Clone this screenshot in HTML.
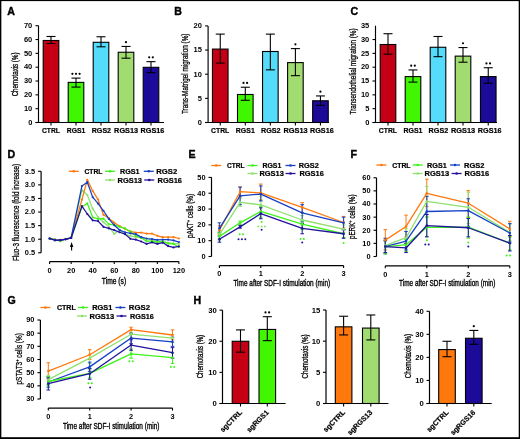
<!DOCTYPE html><html><head><meta charset="utf-8"><style>html,body{margin:0;padding:0;background:#fff;}svg{display:block;will-change:transform;}body{overflow:hidden;}</style></head><body><svg width="520" height="439" viewBox="0 0 520 439" font-family='"Liberation Sans", sans-serif'>
<rect x="0" y="0" width="520" height="439" fill="#fff"/>
<text x="7.3" y="15.1" font-size="10.6" font-weight="bold" text-anchor="start" fill="#000" stroke="#000" stroke-width="0.4">A</text>
<line x1="38.5" y1="25.700000000000003" x2="38.5" y2="123.0" stroke="#000" stroke-width="1.15"/>
<line x1="35.5" y1="122.5" x2="164" y2="122.5" stroke="#000" stroke-width="1.15"/>
<line x1="35.5" y1="122.5" x2="38.5" y2="122.5" stroke="#000" stroke-width="1.1"/>
<text x="32.3" y="124.8" font-size="7.5" font-weight="bold" text-anchor="end" fill="#000">0</text>
<line x1="35.5" y1="108.67142857142858" x2="38.5" y2="108.67142857142858" stroke="#000" stroke-width="1.1"/>
<text x="32.3" y="110.97142857142858" font-size="7.5" font-weight="bold" text-anchor="end" fill="#000">10</text>
<line x1="35.5" y1="94.84285714285714" x2="38.5" y2="94.84285714285714" stroke="#000" stroke-width="1.1"/>
<text x="32.3" y="97.14285714285714" font-size="7.5" font-weight="bold" text-anchor="end" fill="#000">20</text>
<line x1="35.5" y1="81.01428571428572" x2="38.5" y2="81.01428571428572" stroke="#000" stroke-width="1.1"/>
<text x="32.3" y="83.31428571428572" font-size="7.5" font-weight="bold" text-anchor="end" fill="#000">30</text>
<line x1="35.5" y1="67.18571428571428" x2="38.5" y2="67.18571428571428" stroke="#000" stroke-width="1.1"/>
<text x="32.3" y="69.48571428571428" font-size="7.5" font-weight="bold" text-anchor="end" fill="#000">40</text>
<line x1="35.5" y1="53.35714285714286" x2="38.5" y2="53.35714285714286" stroke="#000" stroke-width="1.1"/>
<text x="32.3" y="55.65714285714286" font-size="7.5" font-weight="bold" text-anchor="end" fill="#000">50</text>
<line x1="35.5" y1="39.52857142857144" x2="38.5" y2="39.52857142857144" stroke="#000" stroke-width="1.1"/>
<text x="32.3" y="41.828571428571436" font-size="7.5" font-weight="bold" text-anchor="end" fill="#000">60</text>
<line x1="35.5" y1="25.700000000000003" x2="38.5" y2="25.700000000000003" stroke="#000" stroke-width="1.1"/>
<text x="32.3" y="28.000000000000004" font-size="7.5" font-weight="bold" text-anchor="end" fill="#000">70</text>
<rect x="43.2" y="40.49657142857144" width="15.6" height="82.00342857142856" fill="#c60014" stroke="#000" stroke-width="1.1"/>
<line x1="51" y1="36.486285714285714" x2="51" y2="43.53885714285714" stroke="#000" stroke-width="1.1"/>
<line x1="46.5" y1="36.486285714285714" x2="55.5" y2="36.486285714285714" stroke="#000" stroke-width="1.1"/>
<line x1="46.5" y1="43.53885714285714" x2="55.5" y2="43.53885714285714" stroke="#000" stroke-width="1.1"/>
<line x1="51" y1="122.5" x2="51" y2="125.5" stroke="#000" stroke-width="1.1"/>
<text x="50.9" y="133.4" font-size="8.1" font-weight="bold" text-anchor="middle" fill="#000" stroke="#000" stroke-width="0.22" textLength="18" lengthAdjust="spacingAndGlyphs">CTRL</text>
<rect x="68.2" y="82.39714285714285" width="15.6" height="40.10285714285715" fill="#40f600" stroke="#000" stroke-width="1.1"/>
<line x1="76" y1="78.11028571428571" x2="76" y2="87.09885714285714" stroke="#000" stroke-width="1.1"/>
<line x1="71.5" y1="78.11028571428571" x2="80.5" y2="78.11028571428571" stroke="#000" stroke-width="1.1"/>
<line x1="71.5" y1="87.09885714285714" x2="80.5" y2="87.09885714285714" stroke="#000" stroke-width="1.1"/>
<line x1="76" y1="122.5" x2="76" y2="125.5" stroke="#000" stroke-width="1.1"/>
<circle cx="72.40" cy="73.81" r="1.1" fill="#000"/>
<circle cx="76.00" cy="73.81" r="1.1" fill="#000"/>
<circle cx="79.60" cy="73.81" r="1.1" fill="#000"/>
<text x="76" y="133.4" font-size="8.1" font-weight="bold" text-anchor="middle" fill="#000" stroke="#000" stroke-width="0.22" textLength="18.5" lengthAdjust="spacingAndGlyphs">RGS1</text>
<rect x="93.2" y="42.29428571428572" width="15.6" height="80.20571428571428" fill="#55dcfb" stroke="#000" stroke-width="1.1"/>
<line x1="101" y1="36.76285714285714" x2="101" y2="46.78857142857143" stroke="#000" stroke-width="1.1"/>
<line x1="96.5" y1="36.76285714285714" x2="105.5" y2="36.76285714285714" stroke="#000" stroke-width="1.1"/>
<line x1="96.5" y1="46.78857142857143" x2="105.5" y2="46.78857142857143" stroke="#000" stroke-width="1.1"/>
<line x1="101" y1="122.5" x2="101" y2="125.5" stroke="#000" stroke-width="1.1"/>
<text x="101.4" y="133.4" font-size="8.1" font-weight="bold" text-anchor="middle" fill="#000" stroke="#000" stroke-width="0.22" textLength="19.3" lengthAdjust="spacingAndGlyphs">RGS2</text>
<rect x="118.2" y="52.25085714285716" width="15.6" height="70.24914285714284" fill="#a0dc70" stroke="#000" stroke-width="1.1"/>
<line x1="126" y1="46.44285714285715" x2="126" y2="58.197142857142865" stroke="#000" stroke-width="1.1"/>
<line x1="121.5" y1="46.44285714285715" x2="130.5" y2="46.44285714285715" stroke="#000" stroke-width="1.1"/>
<line x1="121.5" y1="58.197142857142865" x2="130.5" y2="58.197142857142865" stroke="#000" stroke-width="1.1"/>
<line x1="126" y1="122.5" x2="126" y2="125.5" stroke="#000" stroke-width="1.1"/>
<circle cx="126.00" cy="42.14" r="1.1" fill="#000"/>
<text x="126.1" y="133.4" font-size="8.1" font-weight="bold" text-anchor="middle" fill="#000" stroke="#000" stroke-width="0.22" textLength="24" lengthAdjust="spacingAndGlyphs">RGS13</text>
<rect x="143.2" y="67.32400000000001" width="15.6" height="55.17599999999999" fill="#1c0a98" stroke="#000" stroke-width="1.1"/>
<line x1="151" y1="61.65428571428572" x2="151" y2="72.71714285714286" stroke="#000" stroke-width="1.1"/>
<line x1="146.5" y1="61.65428571428572" x2="155.5" y2="61.65428571428572" stroke="#000" stroke-width="1.1"/>
<line x1="146.5" y1="72.71714285714286" x2="155.5" y2="72.71714285714286" stroke="#000" stroke-width="1.1"/>
<line x1="151" y1="122.5" x2="151" y2="125.5" stroke="#000" stroke-width="1.1"/>
<circle cx="149.20" cy="57.35" r="1.1" fill="#000"/>
<circle cx="152.80" cy="57.35" r="1.1" fill="#000"/>
<text x="152.4" y="133.4" font-size="8.1" font-weight="bold" text-anchor="middle" fill="#000" stroke="#000" stroke-width="0.22" textLength="23.7" lengthAdjust="spacingAndGlyphs">RGS16</text>
<text transform="translate(18.4 74.45) rotate(-90) scale(0.7436 1)" x="0" y="0" font-size="8.3" font-weight="normal" text-anchor="middle" fill="#000" stroke="#000" stroke-width="0.28"><tspan dy="0.00">Chemotaxis (%)</tspan></text>
<text x="174.2" y="15.2" font-size="10.6" font-weight="bold" text-anchor="start" fill="#000" stroke="#000" stroke-width="0.4">B</text>
<line x1="208.1" y1="25.900000000000006" x2="208.1" y2="123.0" stroke="#000" stroke-width="1.15"/>
<line x1="205.1" y1="122.5" x2="329" y2="122.5" stroke="#000" stroke-width="1.15"/>
<line x1="205.1" y1="122.5" x2="208.1" y2="122.5" stroke="#000" stroke-width="1.1"/>
<text x="201.9" y="124.8" font-size="7.5" font-weight="bold" text-anchor="end" fill="#000">0</text>
<line x1="205.1" y1="98.35" x2="208.1" y2="98.35" stroke="#000" stroke-width="1.1"/>
<text x="201.9" y="100.64999999999999" font-size="7.5" font-weight="bold" text-anchor="end" fill="#000">5</text>
<line x1="205.1" y1="74.2" x2="208.1" y2="74.2" stroke="#000" stroke-width="1.1"/>
<text x="201.9" y="76.5" font-size="7.5" font-weight="bold" text-anchor="end" fill="#000">10</text>
<line x1="205.1" y1="50.05" x2="208.1" y2="50.05" stroke="#000" stroke-width="1.1"/>
<text x="201.9" y="52.349999999999994" font-size="7.5" font-weight="bold" text-anchor="end" fill="#000">15</text>
<line x1="205.1" y1="25.900000000000006" x2="208.1" y2="25.900000000000006" stroke="#000" stroke-width="1.1"/>
<text x="201.9" y="28.200000000000006" font-size="7.5" font-weight="bold" text-anchor="end" fill="#000">20</text>
<rect x="212.45" y="49.084" width="15.6" height="73.416" fill="#c60014" stroke="#000" stroke-width="1.1"/>
<line x1="220.25" y1="34.11099999999999" x2="220.25" y2="63.090999999999994" stroke="#000" stroke-width="1.1"/>
<line x1="215.75" y1="34.11099999999999" x2="224.75" y2="34.11099999999999" stroke="#000" stroke-width="1.1"/>
<line x1="215.75" y1="63.090999999999994" x2="224.75" y2="63.090999999999994" stroke="#000" stroke-width="1.1"/>
<line x1="220.25" y1="122.5" x2="220.25" y2="125.5" stroke="#000" stroke-width="1.1"/>
<text x="220.15" y="133.4" font-size="8.1" font-weight="bold" text-anchor="middle" fill="#000" stroke="#000" stroke-width="0.22" textLength="18.3" lengthAdjust="spacingAndGlyphs">CTRL</text>
<rect x="237.5" y="94.486" width="15.6" height="28.013999999999996" fill="#40f600" stroke="#000" stroke-width="1.1"/>
<line x1="245.3" y1="87.241" x2="245.3" y2="100.282" stroke="#000" stroke-width="1.1"/>
<line x1="240.8" y1="87.241" x2="249.8" y2="87.241" stroke="#000" stroke-width="1.1"/>
<line x1="240.8" y1="100.282" x2="249.8" y2="100.282" stroke="#000" stroke-width="1.1"/>
<line x1="245.3" y1="122.5" x2="245.3" y2="125.5" stroke="#000" stroke-width="1.1"/>
<circle cx="243.50" cy="82.94" r="1.1" fill="#000"/>
<circle cx="247.10" cy="82.94" r="1.1" fill="#000"/>
<text x="245.3" y="133.4" font-size="8.1" font-weight="bold" text-anchor="middle" fill="#000" stroke="#000" stroke-width="0.22" textLength="18.9" lengthAdjust="spacingAndGlyphs">RGS1</text>
<rect x="262.55" y="51.49900000000001" width="15.6" height="71.00099999999999" fill="#55dcfb" stroke="#000" stroke-width="1.1"/>
<line x1="270.35" y1="34.11099999999999" x2="270.35" y2="69.853" stroke="#000" stroke-width="1.1"/>
<line x1="265.85" y1="34.11099999999999" x2="274.85" y2="34.11099999999999" stroke="#000" stroke-width="1.1"/>
<line x1="265.85" y1="69.853" x2="274.85" y2="69.853" stroke="#000" stroke-width="1.1"/>
<line x1="270.35" y1="122.5" x2="270.35" y2="125.5" stroke="#000" stroke-width="1.1"/>
<text x="270.75" y="133.4" font-size="8.1" font-weight="bold" text-anchor="middle" fill="#000" stroke="#000" stroke-width="0.22" textLength="19.6" lengthAdjust="spacingAndGlyphs">RGS2</text>
<rect x="287.59999999999997" y="62.608" width="15.6" height="59.892" fill="#a0dc70" stroke="#000" stroke-width="1.1"/>
<line x1="295.4" y1="48.601" x2="295.4" y2="75.649" stroke="#000" stroke-width="1.1"/>
<line x1="290.9" y1="48.601" x2="299.9" y2="48.601" stroke="#000" stroke-width="1.1"/>
<line x1="290.9" y1="75.649" x2="299.9" y2="75.649" stroke="#000" stroke-width="1.1"/>
<line x1="295.4" y1="122.5" x2="295.4" y2="125.5" stroke="#000" stroke-width="1.1"/>
<circle cx="295.40" cy="44.30" r="1.1" fill="#000"/>
<text x="295.5" y="133.4" font-size="8.1" font-weight="bold" text-anchor="middle" fill="#000" stroke="#000" stroke-width="0.22" textLength="24.2" lengthAdjust="spacingAndGlyphs">RGS13</text>
<rect x="312.65" y="100.765" width="15.6" height="21.735" fill="#1c0a98" stroke="#000" stroke-width="1.1"/>
<line x1="320.45" y1="95.935" x2="320.45" y2="105.3535" stroke="#000" stroke-width="1.1"/>
<line x1="315.95" y1="95.935" x2="324.95" y2="95.935" stroke="#000" stroke-width="1.1"/>
<line x1="315.95" y1="105.3535" x2="324.95" y2="105.3535" stroke="#000" stroke-width="1.1"/>
<line x1="320.45" y1="122.5" x2="320.45" y2="125.5" stroke="#000" stroke-width="1.1"/>
<circle cx="320.45" cy="91.64" r="1.1" fill="#000"/>
<text x="321.84999999999997" y="133.4" font-size="8.1" font-weight="bold" text-anchor="middle" fill="#000" stroke="#000" stroke-width="0.22" textLength="23.7" lengthAdjust="spacingAndGlyphs">RGS16</text>
<text transform="translate(187.5 73.8) rotate(-90) scale(0.7707 1)" x="0" y="0" font-size="8.3" font-weight="normal" text-anchor="middle" fill="#000" stroke="#000" stroke-width="0.28"><tspan dy="0.00">Trans-Matrigel migration (%)</tspan></text>
<text x="350.5" y="15.2" font-size="10.6" font-weight="bold" text-anchor="start" fill="#000" stroke="#000" stroke-width="0.4">C</text>
<line x1="375.5" y1="25.700000000000003" x2="375.5" y2="123.0" stroke="#000" stroke-width="1.15"/>
<line x1="372.5" y1="122.5" x2="497" y2="122.5" stroke="#000" stroke-width="1.15"/>
<line x1="372.5" y1="122.5" x2="375.5" y2="122.5" stroke="#000" stroke-width="1.1"/>
<text x="369.3" y="124.8" font-size="7.5" font-weight="bold" text-anchor="end" fill="#000">0</text>
<line x1="372.5" y1="108.67142857142858" x2="375.5" y2="108.67142857142858" stroke="#000" stroke-width="1.1"/>
<text x="369.3" y="110.97142857142858" font-size="7.5" font-weight="bold" text-anchor="end" fill="#000">5</text>
<line x1="372.5" y1="94.84285714285714" x2="375.5" y2="94.84285714285714" stroke="#000" stroke-width="1.1"/>
<text x="369.3" y="97.14285714285714" font-size="7.5" font-weight="bold" text-anchor="end" fill="#000">10</text>
<line x1="372.5" y1="81.01428571428572" x2="375.5" y2="81.01428571428572" stroke="#000" stroke-width="1.1"/>
<text x="369.3" y="83.31428571428572" font-size="7.5" font-weight="bold" text-anchor="end" fill="#000">15</text>
<line x1="372.5" y1="67.18571428571428" x2="375.5" y2="67.18571428571428" stroke="#000" stroke-width="1.1"/>
<text x="369.3" y="69.48571428571428" font-size="7.5" font-weight="bold" text-anchor="end" fill="#000">20</text>
<line x1="372.5" y1="53.35714285714286" x2="375.5" y2="53.35714285714286" stroke="#000" stroke-width="1.1"/>
<text x="369.3" y="55.65714285714286" font-size="7.5" font-weight="bold" text-anchor="end" fill="#000">25</text>
<line x1="372.5" y1="39.52857142857144" x2="375.5" y2="39.52857142857144" stroke="#000" stroke-width="1.1"/>
<text x="369.3" y="41.828571428571436" font-size="7.5" font-weight="bold" text-anchor="end" fill="#000">30</text>
<text x="369.3" y="28.000000000000004" font-size="7.5" font-weight="bold" text-anchor="end" fill="#000">35</text>
<rect x="380.2" y="44.50685714285714" width="15.6" height="77.99314285714286" fill="#c60014" stroke="#000" stroke-width="1.1"/>
<line x1="388" y1="33.72057142857143" x2="388" y2="54.18685714285715" stroke="#000" stroke-width="1.1"/>
<line x1="383.5" y1="33.72057142857143" x2="392.5" y2="33.72057142857143" stroke="#000" stroke-width="1.1"/>
<line x1="383.5" y1="54.18685714285715" x2="392.5" y2="54.18685714285715" stroke="#000" stroke-width="1.1"/>
<line x1="388" y1="122.5" x2="388" y2="125.5" stroke="#000" stroke-width="1.1"/>
<text x="387.9" y="133.4" font-size="8.1" font-weight="bold" text-anchor="middle" fill="#000" stroke="#000" stroke-width="0.22" textLength="18.3" lengthAdjust="spacingAndGlyphs">CTRL</text>
<rect x="405.2" y="76.58914285714286" width="15.6" height="45.91085714285714" fill="#40f600" stroke="#000" stroke-width="1.1"/>
<line x1="413" y1="69.95142857142858" x2="413" y2="82.12057142857142" stroke="#000" stroke-width="1.1"/>
<line x1="408.5" y1="69.95142857142858" x2="417.5" y2="69.95142857142858" stroke="#000" stroke-width="1.1"/>
<line x1="408.5" y1="82.12057142857142" x2="417.5" y2="82.12057142857142" stroke="#000" stroke-width="1.1"/>
<line x1="413" y1="122.5" x2="413" y2="125.5" stroke="#000" stroke-width="1.1"/>
<circle cx="411.20" cy="65.65" r="1.1" fill="#000"/>
<circle cx="414.80" cy="65.65" r="1.1" fill="#000"/>
<text x="413" y="133.4" font-size="8.1" font-weight="bold" text-anchor="middle" fill="#000" stroke="#000" stroke-width="0.22" textLength="18.9" lengthAdjust="spacingAndGlyphs">RGS1</text>
<rect x="430.2" y="47.27257142857144" width="15.6" height="75.22742857142856" fill="#55dcfb" stroke="#000" stroke-width="1.1"/>
<line x1="438" y1="36.486285714285714" x2="438" y2="56.676" stroke="#000" stroke-width="1.1"/>
<line x1="433.5" y1="36.486285714285714" x2="442.5" y2="36.486285714285714" stroke="#000" stroke-width="1.1"/>
<line x1="433.5" y1="56.676" x2="442.5" y2="56.676" stroke="#000" stroke-width="1.1"/>
<line x1="438" y1="122.5" x2="438" y2="125.5" stroke="#000" stroke-width="1.1"/>
<text x="438.4" y="133.4" font-size="8.1" font-weight="bold" text-anchor="middle" fill="#000" stroke="#000" stroke-width="0.22" textLength="19.6" lengthAdjust="spacingAndGlyphs">RGS2</text>
<rect x="455.2" y="56.12285714285714" width="15.6" height="66.37714285714286" fill="#a0dc70" stroke="#000" stroke-width="1.1"/>
<line x1="463" y1="47.549142857142854" x2="463" y2="62.20742857142857" stroke="#000" stroke-width="1.1"/>
<line x1="458.5" y1="47.549142857142854" x2="467.5" y2="47.549142857142854" stroke="#000" stroke-width="1.1"/>
<line x1="458.5" y1="62.20742857142857" x2="467.5" y2="62.20742857142857" stroke="#000" stroke-width="1.1"/>
<line x1="463" y1="122.5" x2="463" y2="125.5" stroke="#000" stroke-width="1.1"/>
<circle cx="463.00" cy="43.25" r="1.1" fill="#000"/>
<text x="463.1" y="133.4" font-size="8.1" font-weight="bold" text-anchor="middle" fill="#000" stroke="#000" stroke-width="0.22" textLength="24.2" lengthAdjust="spacingAndGlyphs">RGS13</text>
<rect x="480.45" y="76.58914285714286" width="15.6" height="45.91085714285714" fill="#1c0a98" stroke="#000" stroke-width="1.1"/>
<line x1="488.25" y1="67.73885714285714" x2="488.25" y2="83.22685714285714" stroke="#000" stroke-width="1.1"/>
<line x1="483.75" y1="67.73885714285714" x2="492.75" y2="67.73885714285714" stroke="#000" stroke-width="1.1"/>
<line x1="483.75" y1="83.22685714285714" x2="492.75" y2="83.22685714285714" stroke="#000" stroke-width="1.1"/>
<line x1="488.25" y1="122.5" x2="488.25" y2="125.5" stroke="#000" stroke-width="1.1"/>
<circle cx="486.45" cy="63.44" r="1.1" fill="#000"/>
<circle cx="490.05" cy="63.44" r="1.1" fill="#000"/>
<text x="489.65" y="133.4" font-size="8.1" font-weight="bold" text-anchor="middle" fill="#000" stroke="#000" stroke-width="0.22" textLength="23.7" lengthAdjust="spacingAndGlyphs">RGS16</text>
<text transform="translate(355.6 71.45) rotate(-90) scale(0.7639 1)" x="0" y="0" font-size="8.3" font-weight="normal" text-anchor="middle" fill="#000" stroke="#000" stroke-width="0.28"><tspan dy="0.00">Transendothelial migration (%)</tspan></text>
<text x="7.6" y="158.2" font-size="10.6" font-weight="bold" text-anchor="start" fill="#000" stroke="#000" stroke-width="0.4">D</text>
<line x1="41.1" y1="171.29000000000002" x2="41.1" y2="252.8" stroke="#000" stroke-width="1.2"/>
<line x1="38.1" y1="252.8" x2="41.1" y2="252.8" stroke="#000" stroke-width="1.1"/>
<text x="35.1" y="255.20000000000002" font-size="7.4" font-weight="bold" text-anchor="end" fill="#000">0.5</text>
<line x1="38.1" y1="239.215" x2="41.1" y2="239.215" stroke="#000" stroke-width="1.1"/>
<text x="35.1" y="241.615" font-size="7.4" font-weight="bold" text-anchor="end" fill="#000">1.0</text>
<line x1="38.1" y1="225.63" x2="41.1" y2="225.63" stroke="#000" stroke-width="1.1"/>
<text x="35.1" y="228.03" font-size="7.4" font-weight="bold" text-anchor="end" fill="#000">1.5</text>
<line x1="38.1" y1="212.04500000000002" x2="41.1" y2="212.04500000000002" stroke="#000" stroke-width="1.1"/>
<text x="35.1" y="214.44500000000002" font-size="7.4" font-weight="bold" text-anchor="end" fill="#000">2.0</text>
<line x1="38.1" y1="198.46" x2="41.1" y2="198.46" stroke="#000" stroke-width="1.1"/>
<text x="35.1" y="200.86" font-size="7.4" font-weight="bold" text-anchor="end" fill="#000">2.5</text>
<line x1="38.1" y1="184.875" x2="41.1" y2="184.875" stroke="#000" stroke-width="1.1"/>
<text x="35.1" y="187.275" font-size="7.4" font-weight="bold" text-anchor="end" fill="#000">3.0</text>
<line x1="38.1" y1="171.29000000000002" x2="41.1" y2="171.29000000000002" stroke="#000" stroke-width="1.1"/>
<text x="35.1" y="173.69000000000003" font-size="7.4" font-weight="bold" text-anchor="end" fill="#000">3.5</text>
<line x1="49.6" y1="261.6" x2="178.89999999999998" y2="261.6" stroke="#000" stroke-width="1.2"/>
<line x1="49.6" y1="261.6" x2="49.6" y2="264.1" stroke="#000" stroke-width="1.1"/>
<text x="49.6" y="272.6" font-size="7.4" font-weight="bold" text-anchor="middle" fill="#000">0</text>
<line x1="71.15" y1="261.6" x2="71.15" y2="264.1" stroke="#000" stroke-width="1.1"/>
<text x="71.15" y="272.6" font-size="7.4" font-weight="bold" text-anchor="middle" fill="#000">20</text>
<line x1="92.69999999999999" y1="261.6" x2="92.69999999999999" y2="264.1" stroke="#000" stroke-width="1.1"/>
<text x="92.69999999999999" y="272.6" font-size="7.4" font-weight="bold" text-anchor="middle" fill="#000">40</text>
<line x1="114.25" y1="261.6" x2="114.25" y2="264.1" stroke="#000" stroke-width="1.1"/>
<text x="114.25" y="272.6" font-size="7.4" font-weight="bold" text-anchor="middle" fill="#000">60</text>
<line x1="135.79999999999998" y1="261.6" x2="135.79999999999998" y2="264.1" stroke="#000" stroke-width="1.1"/>
<text x="135.79999999999998" y="272.6" font-size="7.4" font-weight="bold" text-anchor="middle" fill="#000">80</text>
<line x1="157.35" y1="261.6" x2="157.35" y2="264.1" stroke="#000" stroke-width="1.1"/>
<text x="157.35" y="272.6" font-size="7.4" font-weight="bold" text-anchor="middle" fill="#000">100</text>
<line x1="178.89999999999998" y1="261.6" x2="178.89999999999998" y2="264.1" stroke="#000" stroke-width="1.1"/>
<text x="178.89999999999998" y="272.6" font-size="7.4" font-weight="bold" text-anchor="middle" fill="#000">120</text>
<text x="114" y="284.2" font-size="8.3" font-weight="normal" text-anchor="middle" fill="#000" stroke="#000" stroke-width="0.34" textLength="24.3" lengthAdjust="spacingAndGlyphs">Time (s)</text>
<text transform="translate(19.2 212.4) rotate(-90) scale(0.7623 1)" x="0" y="0" font-size="8.3" font-weight="normal" text-anchor="middle" fill="#000" stroke="#000" stroke-width="0.28"><tspan dy="0.00">Fluo-3 fluorescence (fold increase)</tspan></text>
<line x1="71.6" y1="245" x2="71.6" y2="250.6" stroke="#000" stroke-width="1.1"/>
<path d="M69.9,247 L71.6,242 L73.3,247 Z" fill="#000"/>
<polyline points="49.60,238.50 54.99,239.86 60.38,240.40 65.76,239.04 71.15,237.96 81.92,190.08 87.31,194.98 92.70,208.58 98.09,217.28 103.47,222.18 108.86,226.80 114.25,233.88 119.64,230.07 125.03,234.15 130.41,235.78 135.80,237.14 141.19,237.96 146.57,238.77 151.96,239.86 157.35,241.22 162.74,241.76 168.12,242.58 173.51,243.40 178.90,243.94" fill="none" stroke="#90e070" stroke-width="1.25" stroke-linejoin="round"/>
<circle cx="49.60" cy="238.50" r="1.1" fill="#90e070"/>
<circle cx="54.99" cy="239.86" r="1.1" fill="#90e070"/>
<circle cx="60.38" cy="240.40" r="1.1" fill="#90e070"/>
<circle cx="65.76" cy="239.04" r="1.1" fill="#90e070"/>
<circle cx="71.15" cy="237.96" r="1.1" fill="#90e070"/>
<circle cx="81.92" cy="190.08" r="1.1" fill="#90e070"/>
<circle cx="87.31" cy="194.98" r="1.1" fill="#90e070"/>
<circle cx="92.70" cy="208.58" r="1.1" fill="#90e070"/>
<circle cx="98.09" cy="217.28" r="1.1" fill="#90e070"/>
<circle cx="103.47" cy="222.18" r="1.1" fill="#90e070"/>
<circle cx="108.86" cy="226.80" r="1.1" fill="#90e070"/>
<circle cx="114.25" cy="233.88" r="1.1" fill="#90e070"/>
<circle cx="119.64" cy="230.07" r="1.1" fill="#90e070"/>
<circle cx="125.03" cy="234.15" r="1.1" fill="#90e070"/>
<circle cx="130.41" cy="235.78" r="1.1" fill="#90e070"/>
<circle cx="135.80" cy="237.14" r="1.1" fill="#90e070"/>
<circle cx="141.19" cy="237.96" r="1.1" fill="#90e070"/>
<circle cx="146.57" cy="238.77" r="1.1" fill="#90e070"/>
<circle cx="151.96" cy="239.86" r="1.1" fill="#90e070"/>
<circle cx="157.35" cy="241.22" r="1.1" fill="#90e070"/>
<circle cx="162.74" cy="241.76" r="1.1" fill="#90e070"/>
<circle cx="168.12" cy="242.58" r="1.1" fill="#90e070"/>
<circle cx="173.51" cy="243.40" r="1.1" fill="#90e070"/>
<circle cx="178.90" cy="243.94" r="1.1" fill="#90e070"/>
<polyline points="49.60,238.50 54.99,239.59 60.38,239.86 65.76,239.04 71.15,237.96 81.92,199.60 87.31,179.75 92.70,190.90 98.09,199.60 103.47,214.84 108.86,218.10 114.25,222.72 119.64,225.99 125.03,228.98 130.41,231.43 135.80,232.52 141.19,232.52 146.57,233.60 151.96,233.60 157.35,235.78 162.74,237.14 168.12,237.14 173.51,237.14 178.90,238.50" fill="none" stroke="#ff780c" stroke-width="1.25" stroke-linejoin="round"/>
<circle cx="49.60" cy="238.50" r="1.1" fill="#ff780c"/>
<circle cx="54.99" cy="239.59" r="1.1" fill="#ff780c"/>
<circle cx="60.38" cy="239.86" r="1.1" fill="#ff780c"/>
<circle cx="65.76" cy="239.04" r="1.1" fill="#ff780c"/>
<circle cx="71.15" cy="237.96" r="1.1" fill="#ff780c"/>
<circle cx="81.92" cy="199.60" r="1.1" fill="#ff780c"/>
<circle cx="87.31" cy="179.75" r="1.1" fill="#ff780c"/>
<circle cx="92.70" cy="190.90" r="1.1" fill="#ff780c"/>
<circle cx="98.09" cy="199.60" r="1.1" fill="#ff780c"/>
<circle cx="103.47" cy="214.84" r="1.1" fill="#ff780c"/>
<circle cx="108.86" cy="218.10" r="1.1" fill="#ff780c"/>
<circle cx="114.25" cy="222.72" r="1.1" fill="#ff780c"/>
<circle cx="119.64" cy="225.99" r="1.1" fill="#ff780c"/>
<circle cx="125.03" cy="228.98" r="1.1" fill="#ff780c"/>
<circle cx="130.41" cy="231.43" r="1.1" fill="#ff780c"/>
<circle cx="135.80" cy="232.52" r="1.1" fill="#ff780c"/>
<circle cx="141.19" cy="232.52" r="1.1" fill="#ff780c"/>
<circle cx="146.57" cy="233.60" r="1.1" fill="#ff780c"/>
<circle cx="151.96" cy="233.60" r="1.1" fill="#ff780c"/>
<circle cx="157.35" cy="235.78" r="1.1" fill="#ff780c"/>
<circle cx="162.74" cy="237.14" r="1.1" fill="#ff780c"/>
<circle cx="168.12" cy="237.14" r="1.1" fill="#ff780c"/>
<circle cx="173.51" cy="237.14" r="1.1" fill="#ff780c"/>
<circle cx="178.90" cy="238.50" r="1.1" fill="#ff780c"/>
<polyline points="49.60,238.50 54.99,239.59 60.38,241.22 65.76,238.77 71.15,237.96 81.92,206.95 87.31,203.41 92.70,217.28 98.09,218.92 103.47,218.64 108.86,224.08 114.25,224.90 119.64,226.80 125.03,228.44 130.41,231.70 135.80,235.78 141.19,237.68 146.57,241.22 151.96,241.22 157.35,242.31 162.74,241.22 168.12,243.67 173.51,243.94 178.90,246.93" fill="none" stroke="#3ef21a" stroke-width="1.25" stroke-linejoin="round"/>
<circle cx="49.60" cy="238.50" r="1.1" fill="#3ef21a"/>
<circle cx="54.99" cy="239.59" r="1.1" fill="#3ef21a"/>
<circle cx="60.38" cy="241.22" r="1.1" fill="#3ef21a"/>
<circle cx="65.76" cy="238.77" r="1.1" fill="#3ef21a"/>
<circle cx="71.15" cy="237.96" r="1.1" fill="#3ef21a"/>
<circle cx="81.92" cy="206.95" r="1.1" fill="#3ef21a"/>
<circle cx="87.31" cy="203.41" r="1.1" fill="#3ef21a"/>
<circle cx="92.70" cy="217.28" r="1.1" fill="#3ef21a"/>
<circle cx="98.09" cy="218.92" r="1.1" fill="#3ef21a"/>
<circle cx="103.47" cy="218.64" r="1.1" fill="#3ef21a"/>
<circle cx="108.86" cy="224.08" r="1.1" fill="#3ef21a"/>
<circle cx="114.25" cy="224.90" r="1.1" fill="#3ef21a"/>
<circle cx="119.64" cy="226.80" r="1.1" fill="#3ef21a"/>
<circle cx="125.03" cy="228.44" r="1.1" fill="#3ef21a"/>
<circle cx="130.41" cy="231.70" r="1.1" fill="#3ef21a"/>
<circle cx="135.80" cy="235.78" r="1.1" fill="#3ef21a"/>
<circle cx="141.19" cy="237.68" r="1.1" fill="#3ef21a"/>
<circle cx="146.57" cy="241.22" r="1.1" fill="#3ef21a"/>
<circle cx="151.96" cy="241.22" r="1.1" fill="#3ef21a"/>
<circle cx="157.35" cy="242.31" r="1.1" fill="#3ef21a"/>
<circle cx="162.74" cy="241.22" r="1.1" fill="#3ef21a"/>
<circle cx="168.12" cy="243.67" r="1.1" fill="#3ef21a"/>
<circle cx="173.51" cy="243.94" r="1.1" fill="#3ef21a"/>
<circle cx="178.90" cy="246.93" r="1.1" fill="#3ef21a"/>
<polyline points="49.60,238.50 54.99,239.86 60.38,240.13 65.76,239.04 71.15,237.96 81.92,186.00 87.31,182.20 92.70,197.16 98.09,203.68 103.47,210.76 108.86,218.92 114.25,225.17 119.64,230.07 125.03,232.24 130.41,233.33 135.80,234.15 141.19,237.14 146.57,238.50 151.96,239.04 157.35,239.86 162.74,239.59 168.12,239.59 173.51,240.40 178.90,242.04" fill="none" stroke="#1640c4" stroke-width="1.25" stroke-linejoin="round"/>
<circle cx="49.60" cy="238.50" r="1.1" fill="#1640c4"/>
<circle cx="54.99" cy="239.86" r="1.1" fill="#1640c4"/>
<circle cx="60.38" cy="240.13" r="1.1" fill="#1640c4"/>
<circle cx="65.76" cy="239.04" r="1.1" fill="#1640c4"/>
<circle cx="71.15" cy="237.96" r="1.1" fill="#1640c4"/>
<circle cx="81.92" cy="186.00" r="1.1" fill="#1640c4"/>
<circle cx="87.31" cy="182.20" r="1.1" fill="#1640c4"/>
<circle cx="92.70" cy="197.16" r="1.1" fill="#1640c4"/>
<circle cx="98.09" cy="203.68" r="1.1" fill="#1640c4"/>
<circle cx="103.47" cy="210.76" r="1.1" fill="#1640c4"/>
<circle cx="108.86" cy="218.92" r="1.1" fill="#1640c4"/>
<circle cx="114.25" cy="225.17" r="1.1" fill="#1640c4"/>
<circle cx="119.64" cy="230.07" r="1.1" fill="#1640c4"/>
<circle cx="125.03" cy="232.24" r="1.1" fill="#1640c4"/>
<circle cx="130.41" cy="233.33" r="1.1" fill="#1640c4"/>
<circle cx="135.80" cy="234.15" r="1.1" fill="#1640c4"/>
<circle cx="141.19" cy="237.14" r="1.1" fill="#1640c4"/>
<circle cx="146.57" cy="238.50" r="1.1" fill="#1640c4"/>
<circle cx="151.96" cy="239.04" r="1.1" fill="#1640c4"/>
<circle cx="157.35" cy="239.86" r="1.1" fill="#1640c4"/>
<circle cx="162.74" cy="239.59" r="1.1" fill="#1640c4"/>
<circle cx="168.12" cy="239.59" r="1.1" fill="#1640c4"/>
<circle cx="173.51" cy="240.40" r="1.1" fill="#1640c4"/>
<circle cx="178.90" cy="242.04" r="1.1" fill="#1640c4"/>
<polyline points="49.60,238.50 54.99,240.40 60.38,240.13 65.76,239.32 71.15,237.96 81.92,206.13 87.31,214.02 92.70,220.28 98.09,221.09 103.47,226.80 108.86,228.44 114.25,230.07 119.64,232.24 125.03,234.15 130.41,238.77 135.80,239.59 141.19,241.49 146.57,243.94 151.96,242.31 157.35,243.94 162.74,242.58 168.12,246.12 173.51,247.48 178.90,246.39" fill="none" stroke="#22129c" stroke-width="1.25" stroke-linejoin="round"/>
<circle cx="49.60" cy="238.50" r="1.1" fill="#22129c"/>
<circle cx="54.99" cy="240.40" r="1.1" fill="#22129c"/>
<circle cx="60.38" cy="240.13" r="1.1" fill="#22129c"/>
<circle cx="65.76" cy="239.32" r="1.1" fill="#22129c"/>
<circle cx="71.15" cy="237.96" r="1.1" fill="#22129c"/>
<circle cx="81.92" cy="206.13" r="1.1" fill="#22129c"/>
<circle cx="87.31" cy="214.02" r="1.1" fill="#22129c"/>
<circle cx="92.70" cy="220.28" r="1.1" fill="#22129c"/>
<circle cx="98.09" cy="221.09" r="1.1" fill="#22129c"/>
<circle cx="103.47" cy="226.80" r="1.1" fill="#22129c"/>
<circle cx="108.86" cy="228.44" r="1.1" fill="#22129c"/>
<circle cx="114.25" cy="230.07" r="1.1" fill="#22129c"/>
<circle cx="119.64" cy="232.24" r="1.1" fill="#22129c"/>
<circle cx="125.03" cy="234.15" r="1.1" fill="#22129c"/>
<circle cx="130.41" cy="238.77" r="1.1" fill="#22129c"/>
<circle cx="135.80" cy="239.59" r="1.1" fill="#22129c"/>
<circle cx="141.19" cy="241.49" r="1.1" fill="#22129c"/>
<circle cx="146.57" cy="243.94" r="1.1" fill="#22129c"/>
<circle cx="151.96" cy="242.31" r="1.1" fill="#22129c"/>
<circle cx="157.35" cy="243.94" r="1.1" fill="#22129c"/>
<circle cx="162.74" cy="242.58" r="1.1" fill="#22129c"/>
<circle cx="168.12" cy="246.12" r="1.1" fill="#22129c"/>
<circle cx="173.51" cy="247.48" r="1.1" fill="#22129c"/>
<circle cx="178.90" cy="246.39" r="1.1" fill="#22129c"/>
<line x1="68.75" y1="171.3" x2="78.75" y2="171.3" stroke="#ff780c" stroke-width="1.3"/>
<circle cx="73.75" cy="171.3" r="1.3" fill="#ff780c"/>
<text x="84.5" y="173.9" font-size="7.4" font-weight="bold" text-anchor="start" fill="#000" stroke="#000" stroke-width="0.22" textLength="18" lengthAdjust="spacingAndGlyphs">CTRL</text>
<line x1="105" y1="171.3" x2="115" y2="171.3" stroke="#3ef21a" stroke-width="1.3"/>
<circle cx="110.0" cy="171.3" r="1.3" fill="#3ef21a"/>
<text x="120" y="173.9" font-size="7.4" font-weight="bold" text-anchor="start" fill="#000" stroke="#000" stroke-width="0.22" textLength="19.5" lengthAdjust="spacingAndGlyphs">RGS1</text>
<line x1="143.75" y1="171.3" x2="153.75" y2="171.3" stroke="#1640c4" stroke-width="1.3"/>
<circle cx="148.75" cy="171.3" r="1.3" fill="#1640c4"/>
<text x="156.3" y="173.9" font-size="7.4" font-weight="bold" text-anchor="start" fill="#000" stroke="#000" stroke-width="0.22" textLength="21" lengthAdjust="spacingAndGlyphs">RGS2</text>
<line x1="105" y1="180" x2="115" y2="180" stroke="#90e070" stroke-width="1.3"/>
<circle cx="110.0" cy="180" r="1.3" fill="#90e070"/>
<text x="117.5" y="182.6" font-size="7.4" font-weight="bold" text-anchor="start" fill="#000" stroke="#000" stroke-width="0.22" textLength="24.5" lengthAdjust="spacingAndGlyphs">RGS13</text>
<line x1="144.25" y1="180" x2="154.25" y2="180" stroke="#22129c" stroke-width="1.3"/>
<circle cx="149.25" cy="180" r="1.3" fill="#22129c"/>
<text x="157.5" y="182.6" font-size="7.4" font-weight="bold" text-anchor="start" fill="#000" stroke="#000" stroke-width="0.22" textLength="24.5" lengthAdjust="spacingAndGlyphs">RGS16</text>
<text x="188.4" y="158.2" font-size="10.6" font-weight="bold" text-anchor="start" fill="#000" stroke="#000" stroke-width="0.4">E</text>
<line x1="211.5" y1="177.39999999999998" x2="211.5" y2="256.5" stroke="#000" stroke-width="1.2"/>
<line x1="208.5" y1="256.5" x2="211.5" y2="256.5" stroke="#000" stroke-width="1.1"/>
<text x="205.5" y="258.9" font-size="7.4" font-weight="bold" text-anchor="end" fill="#000">0</text>
<line x1="208.5" y1="240.68" x2="211.5" y2="240.68" stroke="#000" stroke-width="1.1"/>
<text x="205.5" y="243.08" font-size="7.4" font-weight="bold" text-anchor="end" fill="#000">10</text>
<line x1="208.5" y1="224.86" x2="211.5" y2="224.86" stroke="#000" stroke-width="1.1"/>
<text x="205.5" y="227.26000000000002" font-size="7.4" font-weight="bold" text-anchor="end" fill="#000">20</text>
<line x1="208.5" y1="209.04" x2="211.5" y2="209.04" stroke="#000" stroke-width="1.1"/>
<text x="205.5" y="211.44" font-size="7.4" font-weight="bold" text-anchor="end" fill="#000">30</text>
<line x1="208.5" y1="193.22" x2="211.5" y2="193.22" stroke="#000" stroke-width="1.1"/>
<text x="205.5" y="195.62" font-size="7.4" font-weight="bold" text-anchor="end" fill="#000">40</text>
<line x1="208.5" y1="177.39999999999998" x2="211.5" y2="177.39999999999998" stroke="#000" stroke-width="1.1"/>
<text x="205.5" y="179.79999999999998" font-size="7.4" font-weight="bold" text-anchor="end" fill="#000">50</text>
<line x1="219.4" y1="265.6" x2="343.6" y2="265.6" stroke="#000" stroke-width="1.2"/>
<line x1="219.4" y1="265.6" x2="219.4" y2="268.1" stroke="#000" stroke-width="1.1"/>
<text x="219.4" y="276.0" font-size="7.4" font-weight="bold" text-anchor="middle" fill="#000">0</text>
<line x1="260.8" y1="265.6" x2="260.8" y2="268.1" stroke="#000" stroke-width="1.1"/>
<text x="260.8" y="276.0" font-size="7.4" font-weight="bold" text-anchor="middle" fill="#000">1</text>
<line x1="302.2" y1="265.6" x2="302.2" y2="268.1" stroke="#000" stroke-width="1.1"/>
<text x="302.2" y="276.0" font-size="7.4" font-weight="bold" text-anchor="middle" fill="#000">2</text>
<line x1="343.6" y1="265.6" x2="343.6" y2="268.1" stroke="#000" stroke-width="1.1"/>
<text x="343.6" y="276.0" font-size="7.4" font-weight="bold" text-anchor="middle" fill="#000">3</text>
<text x="281.8" y="286.3" font-size="8.4" font-weight="normal" text-anchor="middle" fill="#000" stroke="#000" stroke-width="0.34" textLength="96.8" lengthAdjust="spacingAndGlyphs">Time after SDF-I stimulation (min)</text>
<text transform="translate(193.4 216.0) rotate(-90) scale(0.7653 1)" x="0" y="0" font-size="8.3" font-weight="normal" text-anchor="middle" fill="#000" stroke="#000" stroke-width="0.28"><tspan dy="0.00">pAKT</tspan><tspan font-size="5.15" dy="-3.15">+</tspan><tspan dy="3.15"> cells (%)</tspan></text>
<line x1="219.4" y1="225.78125" x2="219.4" y2="234.375" stroke="#ff780c" stroke-width="1.0"/>
<line x1="217.6" y1="225.78125" x2="221.20000000000002" y2="225.78125" stroke="#ff780c" stroke-width="1.0"/>
<line x1="217.6" y1="234.375" x2="221.20000000000002" y2="234.375" stroke="#ff780c" stroke-width="1.0"/>
<line x1="240.1" y1="186.875" x2="240.1" y2="196.875" stroke="#ff780c" stroke-width="1.0"/>
<line x1="238.29999999999998" y1="186.875" x2="241.9" y2="186.875" stroke="#ff780c" stroke-width="1.0"/>
<line x1="238.29999999999998" y1="196.875" x2="241.9" y2="196.875" stroke="#ff780c" stroke-width="1.0"/>
<line x1="260.8" y1="184.0625" x2="260.8" y2="200.0" stroke="#ff780c" stroke-width="1.0"/>
<line x1="259.0" y1="184.0625" x2="262.6" y2="184.0625" stroke="#ff780c" stroke-width="1.0"/>
<line x1="259.0" y1="200.0" x2="262.6" y2="200.0" stroke="#ff780c" stroke-width="1.0"/>
<line x1="302.2" y1="202.65625" x2="302.2" y2="212.5" stroke="#ff780c" stroke-width="1.0"/>
<line x1="300.4" y1="202.65625" x2="304.0" y2="202.65625" stroke="#ff780c" stroke-width="1.0"/>
<line x1="300.4" y1="212.5" x2="304.0" y2="212.5" stroke="#ff780c" stroke-width="1.0"/>
<line x1="343.6" y1="216.40625" x2="343.6" y2="228.125" stroke="#ff780c" stroke-width="1.0"/>
<line x1="341.8" y1="216.40625" x2="345.40000000000003" y2="216.40625" stroke="#ff780c" stroke-width="1.0"/>
<line x1="341.8" y1="228.125" x2="345.40000000000003" y2="228.125" stroke="#ff780c" stroke-width="1.0"/>
<line x1="219.4" y1="231.25" x2="219.4" y2="239.0625" stroke="#90e070" stroke-width="1.0"/>
<line x1="217.6" y1="231.25" x2="221.20000000000002" y2="231.25" stroke="#90e070" stroke-width="1.0"/>
<line x1="217.6" y1="239.0625" x2="221.20000000000002" y2="239.0625" stroke="#90e070" stroke-width="1.0"/>
<line x1="240.1" y1="198.125" x2="240.1" y2="206.40625" stroke="#90e070" stroke-width="1.0"/>
<line x1="238.29999999999998" y1="198.125" x2="241.9" y2="198.125" stroke="#90e070" stroke-width="1.0"/>
<line x1="238.29999999999998" y1="206.40625" x2="241.9" y2="206.40625" stroke="#90e070" stroke-width="1.0"/>
<line x1="260.8" y1="196.25" x2="260.8" y2="214.0625" stroke="#90e070" stroke-width="1.0"/>
<line x1="259.0" y1="196.25" x2="262.6" y2="196.25" stroke="#90e070" stroke-width="1.0"/>
<line x1="259.0" y1="214.0625" x2="262.6" y2="214.0625" stroke="#90e070" stroke-width="1.0"/>
<line x1="302.2" y1="215.625" x2="302.2" y2="225.0" stroke="#90e070" stroke-width="1.0"/>
<line x1="300.4" y1="215.625" x2="304.0" y2="215.625" stroke="#90e070" stroke-width="1.0"/>
<line x1="300.4" y1="225.0" x2="304.0" y2="225.0" stroke="#90e070" stroke-width="1.0"/>
<line x1="343.6" y1="225.0" x2="343.6" y2="232.8125" stroke="#90e070" stroke-width="1.0"/>
<line x1="341.8" y1="225.0" x2="345.40000000000003" y2="225.0" stroke="#90e070" stroke-width="1.0"/>
<line x1="341.8" y1="232.8125" x2="345.40000000000003" y2="232.8125" stroke="#90e070" stroke-width="1.0"/>
<line x1="219.4" y1="222.8125" x2="219.4" y2="232.8125" stroke="#1640c4" stroke-width="1.0"/>
<line x1="217.6" y1="222.8125" x2="221.20000000000002" y2="222.8125" stroke="#1640c4" stroke-width="1.0"/>
<line x1="217.6" y1="232.8125" x2="221.20000000000002" y2="232.8125" stroke="#1640c4" stroke-width="1.0"/>
<line x1="240.1" y1="187.1875" x2="240.1" y2="204.6875" stroke="#1640c4" stroke-width="1.0"/>
<line x1="238.29999999999998" y1="187.1875" x2="241.9" y2="187.1875" stroke="#1640c4" stroke-width="1.0"/>
<line x1="238.29999999999998" y1="204.6875" x2="241.9" y2="204.6875" stroke="#1640c4" stroke-width="1.0"/>
<line x1="260.8" y1="185.9375" x2="260.8" y2="200.9375" stroke="#1640c4" stroke-width="1.0"/>
<line x1="259.0" y1="185.9375" x2="262.6" y2="185.9375" stroke="#1640c4" stroke-width="1.0"/>
<line x1="259.0" y1="200.9375" x2="262.6" y2="200.9375" stroke="#1640c4" stroke-width="1.0"/>
<line x1="302.2" y1="204.6875" x2="302.2" y2="221.875" stroke="#1640c4" stroke-width="1.0"/>
<line x1="300.4" y1="204.6875" x2="304.0" y2="204.6875" stroke="#1640c4" stroke-width="1.0"/>
<line x1="300.4" y1="221.875" x2="304.0" y2="221.875" stroke="#1640c4" stroke-width="1.0"/>
<line x1="343.6" y1="217.1875" x2="343.6" y2="229.6875" stroke="#1640c4" stroke-width="1.0"/>
<line x1="341.8" y1="217.1875" x2="345.40000000000003" y2="217.1875" stroke="#1640c4" stroke-width="1.0"/>
<line x1="341.8" y1="229.6875" x2="345.40000000000003" y2="229.6875" stroke="#1640c4" stroke-width="1.0"/>
<line x1="219.4" y1="232.8125" x2="219.4" y2="239.84375" stroke="#3ef21a" stroke-width="1.0"/>
<line x1="217.6" y1="232.8125" x2="221.20000000000002" y2="232.8125" stroke="#3ef21a" stroke-width="1.0"/>
<line x1="217.6" y1="239.84375" x2="221.20000000000002" y2="239.84375" stroke="#3ef21a" stroke-width="1.0"/>
<line x1="240.1" y1="221.09375" x2="240.1" y2="224.21875" stroke="#3ef21a" stroke-width="1.0"/>
<line x1="238.29999999999998" y1="221.09375" x2="241.9" y2="221.09375" stroke="#3ef21a" stroke-width="1.0"/>
<line x1="238.29999999999998" y1="224.21875" x2="241.9" y2="224.21875" stroke="#3ef21a" stroke-width="1.0"/>
<line x1="260.8" y1="206.25" x2="260.8" y2="217.1875" stroke="#3ef21a" stroke-width="1.0"/>
<line x1="259.0" y1="206.25" x2="262.6" y2="206.25" stroke="#3ef21a" stroke-width="1.0"/>
<line x1="259.0" y1="217.1875" x2="262.6" y2="217.1875" stroke="#3ef21a" stroke-width="1.0"/>
<line x1="302.2" y1="220.3125" x2="302.2" y2="229.6875" stroke="#3ef21a" stroke-width="1.0"/>
<line x1="300.4" y1="220.3125" x2="304.0" y2="220.3125" stroke="#3ef21a" stroke-width="1.0"/>
<line x1="300.4" y1="229.6875" x2="304.0" y2="229.6875" stroke="#3ef21a" stroke-width="1.0"/>
<line x1="343.6" y1="229.6875" x2="343.6" y2="237.5" stroke="#3ef21a" stroke-width="1.0"/>
<line x1="341.8" y1="229.6875" x2="345.40000000000003" y2="229.6875" stroke="#3ef21a" stroke-width="1.0"/>
<line x1="341.8" y1="237.5" x2="345.40000000000003" y2="237.5" stroke="#3ef21a" stroke-width="1.0"/>
<line x1="219.4" y1="235.9375" x2="219.4" y2="242.1875" stroke="#22129c" stroke-width="1.0"/>
<line x1="217.6" y1="235.9375" x2="221.20000000000002" y2="235.9375" stroke="#22129c" stroke-width="1.0"/>
<line x1="217.6" y1="242.1875" x2="221.20000000000002" y2="242.1875" stroke="#22129c" stroke-width="1.0"/>
<line x1="240.1" y1="225.3125" x2="240.1" y2="228.125" stroke="#22129c" stroke-width="1.0"/>
<line x1="238.29999999999998" y1="225.3125" x2="241.9" y2="225.3125" stroke="#22129c" stroke-width="1.0"/>
<line x1="238.29999999999998" y1="228.125" x2="241.9" y2="228.125" stroke="#22129c" stroke-width="1.0"/>
<line x1="260.8" y1="207.8125" x2="260.8" y2="218.75" stroke="#22129c" stroke-width="1.0"/>
<line x1="259.0" y1="207.8125" x2="262.6" y2="207.8125" stroke="#22129c" stroke-width="1.0"/>
<line x1="259.0" y1="218.75" x2="262.6" y2="218.75" stroke="#22129c" stroke-width="1.0"/>
<line x1="302.2" y1="223.4375" x2="302.2" y2="233.75" stroke="#22129c" stroke-width="1.0"/>
<line x1="300.4" y1="223.4375" x2="304.0" y2="223.4375" stroke="#22129c" stroke-width="1.0"/>
<line x1="300.4" y1="233.75" x2="304.0" y2="233.75" stroke="#22129c" stroke-width="1.0"/>
<line x1="343.6" y1="229.6875" x2="343.6" y2="238.28125" stroke="#22129c" stroke-width="1.0"/>
<line x1="341.8" y1="229.6875" x2="345.40000000000003" y2="229.6875" stroke="#22129c" stroke-width="1.0"/>
<line x1="341.8" y1="238.28125" x2="345.40000000000003" y2="238.28125" stroke="#22129c" stroke-width="1.0"/>
<polyline points="219.40,230.16 240.10,191.72 260.80,192.97 302.20,207.34 343.60,222.50" fill="none" stroke="#ff780c" stroke-width="1.3" stroke-linejoin="round"/>
<circle cx="219.40" cy="230.16" r="1.25" fill="#ff780c"/>
<circle cx="240.10" cy="191.72" r="1.25" fill="#ff780c"/>
<circle cx="260.80" cy="192.97" r="1.25" fill="#ff780c"/>
<circle cx="302.20" cy="207.34" r="1.25" fill="#ff780c"/>
<circle cx="343.60" cy="222.50" r="1.25" fill="#ff780c"/>
<polyline points="219.40,234.69 240.10,202.34 260.80,204.84 302.20,220.00 343.60,229.22" fill="none" stroke="#90e070" stroke-width="1.3" stroke-linejoin="round"/>
<circle cx="219.40" cy="234.69" r="1.25" fill="#90e070"/>
<circle cx="240.10" cy="202.34" r="1.25" fill="#90e070"/>
<circle cx="260.80" cy="204.84" r="1.25" fill="#90e070"/>
<circle cx="302.20" cy="220.00" r="1.25" fill="#90e070"/>
<circle cx="343.60" cy="229.22" r="1.25" fill="#90e070"/>
<polyline points="219.40,228.28 240.10,195.78 260.80,194.06 302.20,212.81 343.60,222.81" fill="none" stroke="#1640c4" stroke-width="1.3" stroke-linejoin="round"/>
<circle cx="219.40" cy="228.28" r="1.25" fill="#1640c4"/>
<circle cx="240.10" cy="195.78" r="1.25" fill="#1640c4"/>
<circle cx="260.80" cy="194.06" r="1.25" fill="#1640c4"/>
<circle cx="302.20" cy="212.81" r="1.25" fill="#1640c4"/>
<circle cx="343.60" cy="222.81" r="1.25" fill="#1640c4"/>
<polyline points="219.40,236.41 240.10,222.81 260.80,211.41 302.20,224.22 343.60,233.75" fill="none" stroke="#3ef21a" stroke-width="1.3" stroke-linejoin="round"/>
<circle cx="219.40" cy="236.41" r="1.25" fill="#3ef21a"/>
<circle cx="240.10" cy="222.81" r="1.25" fill="#3ef21a"/>
<circle cx="260.80" cy="211.41" r="1.25" fill="#3ef21a"/>
<circle cx="302.20" cy="224.22" r="1.25" fill="#3ef21a"/>
<circle cx="343.60" cy="233.75" r="1.25" fill="#3ef21a"/>
<polyline points="219.40,239.22 240.10,226.88 260.80,213.59 302.20,228.28 343.60,233.75" fill="none" stroke="#22129c" stroke-width="1.3" stroke-linejoin="round"/>
<circle cx="219.40" cy="239.22" r="1.25" fill="#22129c"/>
<circle cx="240.10" cy="226.88" r="1.25" fill="#22129c"/>
<circle cx="260.80" cy="213.59" r="1.25" fill="#22129c"/>
<circle cx="302.20" cy="228.28" r="1.25" fill="#22129c"/>
<circle cx="343.60" cy="233.75" r="1.25" fill="#22129c"/>
<circle cx="239.60" cy="234.30" r="1.0" fill="#3ef21a"/>
<circle cx="243.00" cy="234.30" r="1.0" fill="#3ef21a"/>
<circle cx="238.50" cy="239.20" r="1.0" fill="#22129c"/>
<circle cx="241.90" cy="239.20" r="1.0" fill="#22129c"/>
<circle cx="245.30" cy="239.20" r="1.0" fill="#22129c"/>
<circle cx="261.60" cy="222.00" r="1.0" fill="#3ef21a"/>
<circle cx="258.20" cy="226.50" r="1.0" fill="#90e070"/>
<circle cx="261.60" cy="226.50" r="1.0" fill="#90e070"/>
<circle cx="265.00" cy="226.50" r="1.0" fill="#90e070"/>
<circle cx="261.60" cy="229.80" r="1.0" fill="#22129c"/>
<circle cx="300.50" cy="238.90" r="1.0" fill="#3ef21a"/>
<circle cx="303.90" cy="238.90" r="1.0" fill="#3ef21a"/>
<circle cx="302.20" cy="242.50" r="1.0" fill="#22129c"/>
<circle cx="343.60" cy="242.90" r="1.0" fill="#3ef21a"/>
<line x1="211.25" y1="165.5" x2="221.25" y2="165.5" stroke="#ff780c" stroke-width="1.3"/>
<circle cx="216.25" cy="165.5" r="1.3" fill="#ff780c"/>
<text x="227" y="168.1" font-size="7.4" font-weight="bold" text-anchor="start" fill="#000" stroke="#000" stroke-width="0.22" textLength="17.5" lengthAdjust="spacingAndGlyphs">CTRL</text>
<line x1="247.5" y1="165.5" x2="257.5" y2="165.5" stroke="#3ef21a" stroke-width="1.3"/>
<circle cx="252.5" cy="165.5" r="1.3" fill="#3ef21a"/>
<text x="262.5" y="168.1" font-size="7.4" font-weight="bold" text-anchor="start" fill="#000" stroke="#000" stroke-width="0.22" textLength="18.8" lengthAdjust="spacingAndGlyphs">RGS1</text>
<line x1="285.5" y1="165.5" x2="295.5" y2="165.5" stroke="#1640c4" stroke-width="1.3"/>
<circle cx="290.5" cy="165.5" r="1.3" fill="#1640c4"/>
<text x="298.8" y="168.1" font-size="7.4" font-weight="bold" text-anchor="start" fill="#000" stroke="#000" stroke-width="0.22" textLength="20" lengthAdjust="spacingAndGlyphs">RGS2</text>
<line x1="247.5" y1="173.5" x2="257.5" y2="173.5" stroke="#90e070" stroke-width="1.3"/>
<circle cx="252.5" cy="173.5" r="1.3" fill="#90e070"/>
<text x="259.5" y="176.1" font-size="7.4" font-weight="bold" text-anchor="start" fill="#000" stroke="#000" stroke-width="0.22" textLength="24.3" lengthAdjust="spacingAndGlyphs">RGS13</text>
<line x1="285.5" y1="173.5" x2="295.5" y2="173.5" stroke="#22129c" stroke-width="1.3"/>
<circle cx="290.5" cy="173.5" r="1.3" fill="#22129c"/>
<text x="299.5" y="176.1" font-size="7.4" font-weight="bold" text-anchor="start" fill="#000" stroke="#000" stroke-width="0.22" textLength="24.3" lengthAdjust="spacingAndGlyphs">RGS16</text>
<text x="350.5" y="158.2" font-size="10.6" font-weight="bold" text-anchor="start" fill="#000" stroke="#000" stroke-width="0.4">F</text>
<line x1="376.5" y1="177.75" x2="376.5" y2="256.5" stroke="#000" stroke-width="1.2"/>
<line x1="373.5" y1="256.5" x2="376.5" y2="256.5" stroke="#000" stroke-width="1.1"/>
<text x="370.5" y="258.9" font-size="7.4" font-weight="bold" text-anchor="end" fill="#000">0</text>
<line x1="373.5" y1="243.375" x2="376.5" y2="243.375" stroke="#000" stroke-width="1.1"/>
<text x="370.5" y="245.775" font-size="7.4" font-weight="bold" text-anchor="end" fill="#000">10</text>
<line x1="373.5" y1="230.25" x2="376.5" y2="230.25" stroke="#000" stroke-width="1.1"/>
<text x="370.5" y="232.65" font-size="7.4" font-weight="bold" text-anchor="end" fill="#000">20</text>
<line x1="373.5" y1="217.125" x2="376.5" y2="217.125" stroke="#000" stroke-width="1.1"/>
<text x="370.5" y="219.525" font-size="7.4" font-weight="bold" text-anchor="end" fill="#000">30</text>
<line x1="373.5" y1="204.0" x2="376.5" y2="204.0" stroke="#000" stroke-width="1.1"/>
<text x="370.5" y="206.4" font-size="7.4" font-weight="bold" text-anchor="end" fill="#000">40</text>
<line x1="373.5" y1="190.875" x2="376.5" y2="190.875" stroke="#000" stroke-width="1.1"/>
<text x="370.5" y="193.275" font-size="7.4" font-weight="bold" text-anchor="end" fill="#000">50</text>
<line x1="373.5" y1="177.75" x2="376.5" y2="177.75" stroke="#000" stroke-width="1.1"/>
<text x="370.5" y="180.15" font-size="7.4" font-weight="bold" text-anchor="end" fill="#000">60</text>
<line x1="385.3" y1="265.8" x2="509.8" y2="265.8" stroke="#000" stroke-width="1.2"/>
<line x1="385.3" y1="265.8" x2="385.3" y2="268.3" stroke="#000" stroke-width="1.1"/>
<text x="385.3" y="276.6" font-size="7.4" font-weight="bold" text-anchor="middle" fill="#000">0</text>
<line x1="426.8" y1="265.8" x2="426.8" y2="268.3" stroke="#000" stroke-width="1.1"/>
<text x="426.8" y="276.6" font-size="7.4" font-weight="bold" text-anchor="middle" fill="#000">1</text>
<line x1="468.3" y1="265.8" x2="468.3" y2="268.3" stroke="#000" stroke-width="1.1"/>
<text x="468.3" y="276.6" font-size="7.4" font-weight="bold" text-anchor="middle" fill="#000">2</text>
<line x1="509.8" y1="265.8" x2="509.8" y2="268.3" stroke="#000" stroke-width="1.1"/>
<text x="509.8" y="276.6" font-size="7.4" font-weight="bold" text-anchor="middle" fill="#000">3</text>
<text x="447.2" y="286.3" font-size="8.4" font-weight="normal" text-anchor="middle" fill="#000" stroke="#000" stroke-width="0.34" textLength="96.2" lengthAdjust="spacingAndGlyphs">Time after SDF-I stimulation (min)</text>
<text transform="translate(355.1 216.8) rotate(-90) scale(0.7601 1)" x="0" y="0" font-size="8.3" font-weight="normal" text-anchor="middle" fill="#000" stroke="#000" stroke-width="0.28"><tspan dy="0.00">pERK</tspan><tspan font-size="5.15" dy="-3.15">+</tspan><tspan dy="3.15"> cells (%)</tspan></text>
<line x1="385.3" y1="229.59375" x2="385.3" y2="249.9375" stroke="#ff780c" stroke-width="1.0"/>
<line x1="383.5" y1="229.59375" x2="387.1" y2="229.59375" stroke="#ff780c" stroke-width="1.0"/>
<line x1="383.5" y1="249.9375" x2="387.1" y2="249.9375" stroke="#ff780c" stroke-width="1.0"/>
<line x1="406.05" y1="215.15625" x2="406.05" y2="236.8125" stroke="#ff780c" stroke-width="1.0"/>
<line x1="404.25" y1="215.15625" x2="407.85" y2="215.15625" stroke="#ff780c" stroke-width="1.0"/>
<line x1="404.25" y1="236.8125" x2="407.85" y2="236.8125" stroke="#ff780c" stroke-width="1.0"/>
<line x1="426.8" y1="179.19375000000002" x2="426.8" y2="206.625" stroke="#ff780c" stroke-width="1.0"/>
<line x1="425.0" y1="179.19375000000002" x2="428.6" y2="179.19375000000002" stroke="#ff780c" stroke-width="1.0"/>
<line x1="425.0" y1="206.625" x2="428.6" y2="206.625" stroke="#ff780c" stroke-width="1.0"/>
<line x1="468.3" y1="190.6125" x2="468.3" y2="217.125" stroke="#ff780c" stroke-width="1.0"/>
<line x1="466.5" y1="190.6125" x2="470.1" y2="190.6125" stroke="#ff780c" stroke-width="1.0"/>
<line x1="466.5" y1="217.125" x2="470.1" y2="217.125" stroke="#ff780c" stroke-width="1.0"/>
<line x1="509.8" y1="221.325" x2="509.8" y2="236.8125" stroke="#ff780c" stroke-width="1.0"/>
<line x1="508.0" y1="221.325" x2="511.6" y2="221.325" stroke="#ff780c" stroke-width="1.0"/>
<line x1="508.0" y1="236.8125" x2="511.6" y2="236.8125" stroke="#ff780c" stroke-width="1.0"/>
<line x1="385.3" y1="239.4375" x2="385.3" y2="252.5625" stroke="#90e070" stroke-width="1.0"/>
<line x1="383.5" y1="239.4375" x2="387.1" y2="239.4375" stroke="#90e070" stroke-width="1.0"/>
<line x1="383.5" y1="252.5625" x2="387.1" y2="252.5625" stroke="#90e070" stroke-width="1.0"/>
<line x1="406.05" y1="228.28125" x2="406.05" y2="246.0" stroke="#90e070" stroke-width="1.0"/>
<line x1="404.25" y1="228.28125" x2="407.85" y2="228.28125" stroke="#90e070" stroke-width="1.0"/>
<line x1="404.25" y1="246.0" x2="407.85" y2="246.0" stroke="#90e070" stroke-width="1.0"/>
<line x1="426.8" y1="186.41250000000002" x2="426.8" y2="217.125" stroke="#90e070" stroke-width="1.0"/>
<line x1="425.0" y1="186.41250000000002" x2="428.6" y2="186.41250000000002" stroke="#90e070" stroke-width="1.0"/>
<line x1="425.0" y1="217.125" x2="428.6" y2="217.125" stroke="#90e070" stroke-width="1.0"/>
<line x1="468.3" y1="192.1875" x2="468.3" y2="223.6875" stroke="#90e070" stroke-width="1.0"/>
<line x1="466.5" y1="192.1875" x2="470.1" y2="192.1875" stroke="#90e070" stroke-width="1.0"/>
<line x1="466.5" y1="223.6875" x2="470.1" y2="223.6875" stroke="#90e070" stroke-width="1.0"/>
<line x1="509.8" y1="223.6875" x2="509.8" y2="240.75" stroke="#90e070" stroke-width="1.0"/>
<line x1="508.0" y1="223.6875" x2="511.6" y2="223.6875" stroke="#90e070" stroke-width="1.0"/>
<line x1="508.0" y1="240.75" x2="511.6" y2="240.75" stroke="#90e070" stroke-width="1.0"/>
<line x1="385.3" y1="238.25625" x2="385.3" y2="253.875" stroke="#1640c4" stroke-width="1.0"/>
<line x1="383.5" y1="238.25625" x2="387.1" y2="238.25625" stroke="#1640c4" stroke-width="1.0"/>
<line x1="383.5" y1="253.875" x2="387.1" y2="253.875" stroke="#1640c4" stroke-width="1.0"/>
<line x1="406.05" y1="231.5625" x2="406.05" y2="249.9375" stroke="#1640c4" stroke-width="1.0"/>
<line x1="404.25" y1="231.5625" x2="407.85" y2="231.5625" stroke="#1640c4" stroke-width="1.0"/>
<line x1="404.25" y1="249.9375" x2="407.85" y2="249.9375" stroke="#1640c4" stroke-width="1.0"/>
<line x1="426.8" y1="196.3875" x2="426.8" y2="227.625" stroke="#1640c4" stroke-width="1.0"/>
<line x1="425.0" y1="196.3875" x2="428.6" y2="196.3875" stroke="#1640c4" stroke-width="1.0"/>
<line x1="425.0" y1="227.625" x2="428.6" y2="227.625" stroke="#1640c4" stroke-width="1.0"/>
<line x1="468.3" y1="198.75" x2="468.3" y2="226.3125" stroke="#1640c4" stroke-width="1.0"/>
<line x1="466.5" y1="198.75" x2="470.1" y2="198.75" stroke="#1640c4" stroke-width="1.0"/>
<line x1="466.5" y1="226.3125" x2="470.1" y2="226.3125" stroke="#1640c4" stroke-width="1.0"/>
<line x1="509.8" y1="223.6875" x2="509.8" y2="242.0625" stroke="#1640c4" stroke-width="1.0"/>
<line x1="508.0" y1="223.6875" x2="511.6" y2="223.6875" stroke="#1640c4" stroke-width="1.0"/>
<line x1="508.0" y1="242.0625" x2="511.6" y2="242.0625" stroke="#1640c4" stroke-width="1.0"/>
<line x1="385.3" y1="240.75" x2="385.3" y2="253.875" stroke="#3ef21a" stroke-width="1.0"/>
<line x1="383.5" y1="240.75" x2="387.1" y2="240.75" stroke="#3ef21a" stroke-width="1.0"/>
<line x1="383.5" y1="253.875" x2="387.1" y2="253.875" stroke="#3ef21a" stroke-width="1.0"/>
<line x1="406.05" y1="239.4375" x2="406.05" y2="251.25" stroke="#3ef21a" stroke-width="1.0"/>
<line x1="404.25" y1="239.4375" x2="407.85" y2="239.4375" stroke="#3ef21a" stroke-width="1.0"/>
<line x1="404.25" y1="251.25" x2="407.85" y2="251.25" stroke="#3ef21a" stroke-width="1.0"/>
<line x1="426.8" y1="217.125" x2="426.8" y2="236.8125" stroke="#3ef21a" stroke-width="1.0"/>
<line x1="425.0" y1="217.125" x2="428.6" y2="217.125" stroke="#3ef21a" stroke-width="1.0"/>
<line x1="425.0" y1="236.8125" x2="428.6" y2="236.8125" stroke="#3ef21a" stroke-width="1.0"/>
<line x1="468.3" y1="217.125" x2="468.3" y2="238.125" stroke="#3ef21a" stroke-width="1.0"/>
<line x1="466.5" y1="217.125" x2="470.1" y2="217.125" stroke="#3ef21a" stroke-width="1.0"/>
<line x1="466.5" y1="238.125" x2="470.1" y2="238.125" stroke="#3ef21a" stroke-width="1.0"/>
<line x1="509.8" y1="236.8125" x2="509.8" y2="249.9375" stroke="#3ef21a" stroke-width="1.0"/>
<line x1="508.0" y1="236.8125" x2="511.6" y2="236.8125" stroke="#3ef21a" stroke-width="1.0"/>
<line x1="508.0" y1="249.9375" x2="511.6" y2="249.9375" stroke="#3ef21a" stroke-width="1.0"/>
<line x1="385.3" y1="240.75" x2="385.3" y2="252.5625" stroke="#22129c" stroke-width="1.0"/>
<line x1="383.5" y1="240.75" x2="387.1" y2="240.75" stroke="#22129c" stroke-width="1.0"/>
<line x1="383.5" y1="252.5625" x2="387.1" y2="252.5625" stroke="#22129c" stroke-width="1.0"/>
<line x1="406.05" y1="243.375" x2="406.05" y2="252.5625" stroke="#22129c" stroke-width="1.0"/>
<line x1="404.25" y1="243.375" x2="407.85" y2="243.375" stroke="#22129c" stroke-width="1.0"/>
<line x1="404.25" y1="252.5625" x2="407.85" y2="252.5625" stroke="#22129c" stroke-width="1.0"/>
<line x1="426.8" y1="214.5" x2="426.8" y2="236.8125" stroke="#22129c" stroke-width="1.0"/>
<line x1="425.0" y1="214.5" x2="428.6" y2="214.5" stroke="#22129c" stroke-width="1.0"/>
<line x1="425.0" y1="236.8125" x2="428.6" y2="236.8125" stroke="#22129c" stroke-width="1.0"/>
<line x1="468.3" y1="218.4375" x2="468.3" y2="236.8125" stroke="#22129c" stroke-width="1.0"/>
<line x1="466.5" y1="218.4375" x2="470.1" y2="218.4375" stroke="#22129c" stroke-width="1.0"/>
<line x1="466.5" y1="236.8125" x2="470.1" y2="236.8125" stroke="#22129c" stroke-width="1.0"/>
<line x1="509.8" y1="235.5" x2="509.8" y2="250.9875" stroke="#22129c" stroke-width="1.0"/>
<line x1="508.0" y1="235.5" x2="511.6" y2="235.5" stroke="#22129c" stroke-width="1.0"/>
<line x1="508.0" y1="250.9875" x2="511.6" y2="250.9875" stroke="#22129c" stroke-width="1.0"/>
<polyline points="385.30,240.09 406.05,226.44 426.80,193.37 468.30,203.21 509.80,228.94" fill="none" stroke="#ff780c" stroke-width="1.3" stroke-linejoin="round"/>
<circle cx="385.30" cy="240.09" r="1.25" fill="#ff780c"/>
<circle cx="406.05" cy="226.44" r="1.25" fill="#ff780c"/>
<circle cx="426.80" cy="193.37" r="1.25" fill="#ff780c"/>
<circle cx="468.30" cy="203.21" r="1.25" fill="#ff780c"/>
<circle cx="509.80" cy="228.94" r="1.25" fill="#ff780c"/>
<polyline points="385.30,245.61 406.05,237.73 426.80,201.38 468.30,207.28 509.80,232.35" fill="none" stroke="#90e070" stroke-width="1.3" stroke-linejoin="round"/>
<circle cx="385.30" cy="245.61" r="1.25" fill="#90e070"/>
<circle cx="406.05" cy="237.73" r="1.25" fill="#90e070"/>
<circle cx="426.80" cy="201.38" r="1.25" fill="#90e070"/>
<circle cx="468.30" cy="207.28" r="1.25" fill="#90e070"/>
<circle cx="509.80" cy="232.35" r="1.25" fill="#90e070"/>
<polyline points="385.30,246.53 406.05,241.01 426.80,211.48 468.30,210.69 509.80,233.01" fill="none" stroke="#1640c4" stroke-width="1.3" stroke-linejoin="round"/>
<circle cx="385.30" cy="246.53" r="1.25" fill="#1640c4"/>
<circle cx="406.05" cy="241.01" r="1.25" fill="#1640c4"/>
<circle cx="426.80" cy="211.48" r="1.25" fill="#1640c4"/>
<circle cx="468.30" cy="210.69" r="1.25" fill="#1640c4"/>
<circle cx="509.80" cy="233.01" r="1.25" fill="#1640c4"/>
<polyline points="385.30,246.79 406.05,244.69 426.80,227.36 468.30,227.23 509.80,243.24" fill="none" stroke="#3ef21a" stroke-width="1.3" stroke-linejoin="round"/>
<circle cx="385.30" cy="246.79" r="1.25" fill="#3ef21a"/>
<circle cx="406.05" cy="244.69" r="1.25" fill="#3ef21a"/>
<circle cx="426.80" cy="227.36" r="1.25" fill="#3ef21a"/>
<circle cx="468.30" cy="227.23" r="1.25" fill="#3ef21a"/>
<circle cx="509.80" cy="243.24" r="1.25" fill="#3ef21a"/>
<polyline points="385.30,246.53 406.05,247.97 426.80,225.53 468.30,227.76 509.80,243.24" fill="none" stroke="#22129c" stroke-width="1.3" stroke-linejoin="round"/>
<circle cx="385.30" cy="246.53" r="1.25" fill="#22129c"/>
<circle cx="406.05" cy="247.97" r="1.25" fill="#22129c"/>
<circle cx="426.80" cy="225.53" r="1.25" fill="#22129c"/>
<circle cx="468.30" cy="227.76" r="1.25" fill="#22129c"/>
<circle cx="509.80" cy="243.24" r="1.25" fill="#22129c"/>
<circle cx="427.00" cy="240.20" r="1.0" fill="#3ef21a"/>
<circle cx="425.30" cy="244.40" r="1.0" fill="#22129c"/>
<circle cx="428.70" cy="244.40" r="1.0" fill="#22129c"/>
<circle cx="468.30" cy="242.50" r="1.0" fill="#3ef21a"/>
<circle cx="468.30" cy="246.60" r="1.0" fill="#22129c"/>
<circle cx="506.70" cy="255.50" r="1.0" fill="#3ef21a"/>
<circle cx="510.10" cy="255.50" r="1.0" fill="#3ef21a"/>
<line x1="376.4" y1="165" x2="386.4" y2="165" stroke="#ff780c" stroke-width="1.3"/>
<circle cx="381.4" cy="165" r="1.3" fill="#ff780c"/>
<text x="392.2" y="167.6" font-size="7.4" font-weight="bold" text-anchor="start" fill="#000" stroke="#000" stroke-width="0.22" textLength="18.4" lengthAdjust="spacingAndGlyphs">CTRL</text>
<line x1="412.7" y1="165" x2="422.7" y2="165" stroke="#3ef21a" stroke-width="1.3"/>
<circle cx="417.7" cy="165" r="1.3" fill="#3ef21a"/>
<text x="427" y="167.6" font-size="7.4" font-weight="bold" text-anchor="start" fill="#000" stroke="#000" stroke-width="0.22" textLength="19.8" lengthAdjust="spacingAndGlyphs">RGS1</text>
<line x1="450" y1="165" x2="460" y2="165" stroke="#1640c4" stroke-width="1.3"/>
<circle cx="455.0" cy="165" r="1.3" fill="#1640c4"/>
<text x="464" y="167.6" font-size="7.4" font-weight="bold" text-anchor="start" fill="#000" stroke="#000" stroke-width="0.22" textLength="20.4" lengthAdjust="spacingAndGlyphs">RGS2</text>
<line x1="412.7" y1="173.5" x2="422.7" y2="173.5" stroke="#90e070" stroke-width="1.3"/>
<circle cx="417.7" cy="173.5" r="1.3" fill="#90e070"/>
<text x="424.6" y="176.1" font-size="7.4" font-weight="bold" text-anchor="start" fill="#000" stroke="#000" stroke-width="0.22" textLength="24.6" lengthAdjust="spacingAndGlyphs">RGS13</text>
<line x1="451.6" y1="173.5" x2="461.6" y2="173.5" stroke="#22129c" stroke-width="1.3"/>
<circle cx="456.6" cy="173.5" r="1.3" fill="#22129c"/>
<text x="464.6" y="176.1" font-size="7.4" font-weight="bold" text-anchor="start" fill="#000" stroke="#000" stroke-width="0.22" textLength="24.6" lengthAdjust="spacingAndGlyphs">RGS16</text>
<text x="7.6" y="303.8" font-size="10.6" font-weight="bold" text-anchor="start" fill="#000" stroke="#000" stroke-width="0.4">G</text>
<line x1="40.4" y1="319.998" x2="40.4" y2="399.0" stroke="#000" stroke-width="1.2"/>
<line x1="37.4" y1="399.0" x2="40.4" y2="399.0" stroke="#000" stroke-width="1.1"/>
<text x="34.4" y="401.4" font-size="7.4" font-weight="bold" text-anchor="end" fill="#000">30</text>
<line x1="37.4" y1="385.833" x2="40.4" y2="385.833" stroke="#000" stroke-width="1.1"/>
<text x="34.4" y="388.233" font-size="7.4" font-weight="bold" text-anchor="end" fill="#000">40</text>
<line x1="37.4" y1="372.666" x2="40.4" y2="372.666" stroke="#000" stroke-width="1.1"/>
<text x="34.4" y="375.066" font-size="7.4" font-weight="bold" text-anchor="end" fill="#000">50</text>
<line x1="37.4" y1="359.499" x2="40.4" y2="359.499" stroke="#000" stroke-width="1.1"/>
<text x="34.4" y="361.899" font-size="7.4" font-weight="bold" text-anchor="end" fill="#000">60</text>
<line x1="37.4" y1="346.332" x2="40.4" y2="346.332" stroke="#000" stroke-width="1.1"/>
<text x="34.4" y="348.73199999999997" font-size="7.4" font-weight="bold" text-anchor="end" fill="#000">70</text>
<line x1="37.4" y1="333.165" x2="40.4" y2="333.165" stroke="#000" stroke-width="1.1"/>
<text x="34.4" y="335.565" font-size="7.4" font-weight="bold" text-anchor="end" fill="#000">80</text>
<line x1="37.4" y1="319.998" x2="40.4" y2="319.998" stroke="#000" stroke-width="1.1"/>
<text x="34.4" y="322.39799999999997" font-size="7.4" font-weight="bold" text-anchor="end" fill="#000">90</text>
<line x1="48.3" y1="408.1" x2="172.5" y2="408.1" stroke="#000" stroke-width="1.2"/>
<line x1="48.3" y1="408.1" x2="48.3" y2="410.6" stroke="#000" stroke-width="1.1"/>
<text x="48.3" y="419.1" font-size="7.4" font-weight="bold" text-anchor="middle" fill="#000">0</text>
<line x1="89.7" y1="408.1" x2="89.7" y2="410.6" stroke="#000" stroke-width="1.1"/>
<text x="89.7" y="419.1" font-size="7.4" font-weight="bold" text-anchor="middle" fill="#000">1</text>
<line x1="131.1" y1="408.1" x2="131.1" y2="410.6" stroke="#000" stroke-width="1.1"/>
<text x="131.1" y="419.1" font-size="7.4" font-weight="bold" text-anchor="middle" fill="#000">2</text>
<line x1="172.5" y1="408.1" x2="172.5" y2="410.6" stroke="#000" stroke-width="1.1"/>
<text x="172.5" y="419.1" font-size="7.4" font-weight="bold" text-anchor="middle" fill="#000">3</text>
<text x="111.2" y="428.6" font-size="8.4" font-weight="normal" text-anchor="middle" fill="#000" stroke="#000" stroke-width="0.34" textLength="96.5" lengthAdjust="spacingAndGlyphs">Time after SDF-I stimulation (min)</text>
<text transform="translate(21.7 358.8) rotate(-90) scale(0.7748 1)" x="0" y="0" font-size="8.3" font-weight="normal" text-anchor="middle" fill="#000" stroke="#000" stroke-width="0.28"><tspan dy="0.00">pSTAT3</tspan><tspan font-size="5.15" dy="-3.15">+</tspan><tspan dy="3.15"> cells (%)</tspan></text>
<line x1="48.3" y1="362.79075" x2="48.3" y2="379.2495" stroke="#ff780c" stroke-width="1.0"/>
<line x1="46.5" y1="362.79075" x2="50.099999999999994" y2="362.79075" stroke="#ff780c" stroke-width="1.0"/>
<line x1="46.5" y1="379.2495" x2="50.099999999999994" y2="379.2495" stroke="#ff780c" stroke-width="1.0"/>
<line x1="89.7" y1="349.62375" x2="89.7" y2="359.499" stroke="#ff780c" stroke-width="1.0"/>
<line x1="87.9" y1="349.62375" x2="91.5" y2="349.62375" stroke="#ff780c" stroke-width="1.0"/>
<line x1="87.9" y1="359.499" x2="91.5" y2="359.499" stroke="#ff780c" stroke-width="1.0"/>
<line x1="131.1" y1="327.23985" x2="131.1" y2="333.165" stroke="#ff780c" stroke-width="1.0"/>
<line x1="129.29999999999998" y1="327.23985" x2="132.9" y2="327.23985" stroke="#ff780c" stroke-width="1.0"/>
<line x1="129.29999999999998" y1="333.165" x2="132.9" y2="333.165" stroke="#ff780c" stroke-width="1.0"/>
<line x1="172.5" y1="329.87325" x2="172.5" y2="339.7485" stroke="#ff780c" stroke-width="1.0"/>
<line x1="170.7" y1="329.87325" x2="174.3" y2="329.87325" stroke="#ff780c" stroke-width="1.0"/>
<line x1="170.7" y1="339.7485" x2="174.3" y2="339.7485" stroke="#ff780c" stroke-width="1.0"/>
<line x1="48.3" y1="375.2994" x2="48.3" y2="384.5163" stroke="#90e070" stroke-width="1.0"/>
<line x1="46.5" y1="375.2994" x2="50.099999999999994" y2="375.2994" stroke="#90e070" stroke-width="1.0"/>
<line x1="46.5" y1="384.5163" x2="50.099999999999994" y2="384.5163" stroke="#90e070" stroke-width="1.0"/>
<line x1="89.7" y1="354.2322" x2="89.7" y2="363.4491" stroke="#90e070" stroke-width="1.0"/>
<line x1="87.9" y1="354.2322" x2="91.5" y2="354.2322" stroke="#90e070" stroke-width="1.0"/>
<line x1="87.9" y1="363.4491" x2="91.5" y2="363.4491" stroke="#90e070" stroke-width="1.0"/>
<line x1="131.1" y1="330.5316" x2="131.1" y2="338.4318" stroke="#90e070" stroke-width="1.0"/>
<line x1="129.29999999999998" y1="330.5316" x2="132.9" y2="330.5316" stroke="#90e070" stroke-width="1.0"/>
<line x1="129.29999999999998" y1="338.4318" x2="132.9" y2="338.4318" stroke="#90e070" stroke-width="1.0"/>
<line x1="172.5" y1="334.4817" x2="172.5" y2="342.3819" stroke="#90e070" stroke-width="1.0"/>
<line x1="170.7" y1="334.4817" x2="174.3" y2="334.4817" stroke="#90e070" stroke-width="1.0"/>
<line x1="170.7" y1="342.3819" x2="174.3" y2="342.3819" stroke="#90e070" stroke-width="1.0"/>
<line x1="48.3" y1="376.6161" x2="48.3" y2="387.1497" stroke="#1640c4" stroke-width="1.0"/>
<line x1="46.5" y1="376.6161" x2="50.099999999999994" y2="376.6161" stroke="#1640c4" stroke-width="1.0"/>
<line x1="46.5" y1="387.1497" x2="50.099999999999994" y2="387.1497" stroke="#1640c4" stroke-width="1.0"/>
<line x1="89.7" y1="362.1324" x2="89.7" y2="371.34929999999997" stroke="#1640c4" stroke-width="1.0"/>
<line x1="87.9" y1="362.1324" x2="91.5" y2="362.1324" stroke="#1640c4" stroke-width="1.0"/>
<line x1="87.9" y1="371.34929999999997" x2="91.5" y2="371.34929999999997" stroke="#1640c4" stroke-width="1.0"/>
<line x1="131.1" y1="333.165" x2="131.1" y2="343.6986" stroke="#1640c4" stroke-width="1.0"/>
<line x1="129.29999999999998" y1="333.165" x2="132.9" y2="333.165" stroke="#1640c4" stroke-width="1.0"/>
<line x1="129.29999999999998" y1="343.6986" x2="132.9" y2="343.6986" stroke="#1640c4" stroke-width="1.0"/>
<line x1="172.5" y1="337.1151" x2="172.5" y2="346.332" stroke="#1640c4" stroke-width="1.0"/>
<line x1="170.7" y1="337.1151" x2="174.3" y2="337.1151" stroke="#1640c4" stroke-width="1.0"/>
<line x1="170.7" y1="346.332" x2="174.3" y2="346.332" stroke="#1640c4" stroke-width="1.0"/>
<line x1="48.3" y1="376.6161" x2="48.3" y2="385.833" stroke="#3ef21a" stroke-width="1.0"/>
<line x1="46.5" y1="376.6161" x2="50.099999999999994" y2="376.6161" stroke="#3ef21a" stroke-width="1.0"/>
<line x1="46.5" y1="385.833" x2="50.099999999999994" y2="385.833" stroke="#3ef21a" stroke-width="1.0"/>
<line x1="89.7" y1="368.7159" x2="89.7" y2="377.9328" stroke="#3ef21a" stroke-width="1.0"/>
<line x1="87.9" y1="368.7159" x2="91.5" y2="368.7159" stroke="#3ef21a" stroke-width="1.0"/>
<line x1="87.9" y1="377.9328" x2="91.5" y2="377.9328" stroke="#3ef21a" stroke-width="1.0"/>
<line x1="131.1" y1="348.9654" x2="131.1" y2="358.1823" stroke="#3ef21a" stroke-width="1.0"/>
<line x1="129.29999999999998" y1="348.9654" x2="132.9" y2="348.9654" stroke="#3ef21a" stroke-width="1.0"/>
<line x1="129.29999999999998" y1="358.1823" x2="132.9" y2="358.1823" stroke="#3ef21a" stroke-width="1.0"/>
<line x1="172.5" y1="352.9155" x2="172.5" y2="363.4491" stroke="#3ef21a" stroke-width="1.0"/>
<line x1="170.7" y1="352.9155" x2="174.3" y2="352.9155" stroke="#3ef21a" stroke-width="1.0"/>
<line x1="170.7" y1="363.4491" x2="174.3" y2="363.4491" stroke="#3ef21a" stroke-width="1.0"/>
<line x1="48.3" y1="377.9328" x2="48.3" y2="390.04644" stroke="#22129c" stroke-width="1.0"/>
<line x1="46.5" y1="377.9328" x2="50.099999999999994" y2="377.9328" stroke="#22129c" stroke-width="1.0"/>
<line x1="46.5" y1="390.04644" x2="50.099999999999994" y2="390.04644" stroke="#22129c" stroke-width="1.0"/>
<line x1="89.7" y1="368.7159" x2="89.7" y2="379.2495" stroke="#22129c" stroke-width="1.0"/>
<line x1="87.9" y1="368.7159" x2="91.5" y2="368.7159" stroke="#22129c" stroke-width="1.0"/>
<line x1="87.9" y1="379.2495" x2="91.5" y2="379.2495" stroke="#22129c" stroke-width="1.0"/>
<line x1="131.1" y1="339.7485" x2="131.1" y2="350.2821" stroke="#22129c" stroke-width="1.0"/>
<line x1="129.29999999999998" y1="339.7485" x2="132.9" y2="339.7485" stroke="#22129c" stroke-width="1.0"/>
<line x1="129.29999999999998" y1="350.2821" x2="132.9" y2="350.2821" stroke="#22129c" stroke-width="1.0"/>
<line x1="172.5" y1="347.6487" x2="172.5" y2="358.1823" stroke="#22129c" stroke-width="1.0"/>
<line x1="170.7" y1="347.6487" x2="174.3" y2="347.6487" stroke="#22129c" stroke-width="1.0"/>
<line x1="170.7" y1="358.1823" x2="174.3" y2="358.1823" stroke="#22129c" stroke-width="1.0"/>
<polyline points="48.30,371.09 89.70,354.76 131.10,329.61 172.50,335.01" fill="none" stroke="#ff780c" stroke-width="1.3" stroke-linejoin="round"/>
<circle cx="48.30" cy="371.09" r="1.25" fill="#ff780c"/>
<circle cx="89.70" cy="354.76" r="1.25" fill="#ff780c"/>
<circle cx="131.10" cy="329.61" r="1.25" fill="#ff780c"/>
<circle cx="172.50" cy="335.01" r="1.25" fill="#ff780c"/>
<polyline points="48.30,379.64 89.70,358.18 131.10,334.22 172.50,338.04" fill="none" stroke="#90e070" stroke-width="1.3" stroke-linejoin="round"/>
<circle cx="48.30" cy="379.64" r="1.25" fill="#90e070"/>
<circle cx="89.70" cy="358.18" r="1.25" fill="#90e070"/>
<circle cx="131.10" cy="334.22" r="1.25" fill="#90e070"/>
<circle cx="172.50" cy="338.04" r="1.25" fill="#90e070"/>
<polyline points="48.30,382.01 89.70,366.87 131.10,338.04 172.50,341.86" fill="none" stroke="#1640c4" stroke-width="1.3" stroke-linejoin="round"/>
<circle cx="48.30" cy="382.01" r="1.25" fill="#1640c4"/>
<circle cx="89.70" cy="366.87" r="1.25" fill="#1640c4"/>
<circle cx="131.10" cy="338.04" r="1.25" fill="#1640c4"/>
<circle cx="172.50" cy="341.86" r="1.25" fill="#1640c4"/>
<polyline points="48.30,381.49 89.70,373.32 131.10,353.84 172.50,357.66" fill="none" stroke="#3ef21a" stroke-width="1.3" stroke-linejoin="round"/>
<circle cx="48.30" cy="381.49" r="1.25" fill="#3ef21a"/>
<circle cx="89.70" cy="373.32" r="1.25" fill="#3ef21a"/>
<circle cx="131.10" cy="353.84" r="1.25" fill="#3ef21a"/>
<circle cx="172.50" cy="357.66" r="1.25" fill="#3ef21a"/>
<polyline points="48.30,383.73 89.70,373.72 131.10,345.02 172.50,352.65" fill="none" stroke="#22129c" stroke-width="1.3" stroke-linejoin="round"/>
<circle cx="48.30" cy="383.73" r="1.25" fill="#22129c"/>
<circle cx="89.70" cy="373.72" r="1.25" fill="#22129c"/>
<circle cx="131.10" cy="345.02" r="1.25" fill="#22129c"/>
<circle cx="172.50" cy="352.65" r="1.25" fill="#22129c"/>
<circle cx="88.40" cy="383.30" r="1.0" fill="#3ef21a"/>
<circle cx="91.80" cy="383.30" r="1.0" fill="#3ef21a"/>
<circle cx="90.10" cy="387.50" r="1.0" fill="#22129c"/>
<circle cx="129.40" cy="361.20" r="1.0" fill="#3ef21a"/>
<circle cx="132.80" cy="361.20" r="1.0" fill="#3ef21a"/>
<circle cx="170.80" cy="366.90" r="1.0" fill="#3ef21a"/>
<circle cx="174.20" cy="366.90" r="1.0" fill="#3ef21a"/>
<line x1="40.4" y1="307.5" x2="50.4" y2="307.5" stroke="#ff780c" stroke-width="1.3"/>
<circle cx="45.4" cy="307.5" r="1.3" fill="#ff780c"/>
<text x="56.9" y="310.1" font-size="7.4" font-weight="bold" text-anchor="start" fill="#000" stroke="#000" stroke-width="0.22" textLength="18.9" lengthAdjust="spacingAndGlyphs">CTRL</text>
<line x1="78" y1="307.5" x2="88" y2="307.5" stroke="#3ef21a" stroke-width="1.3"/>
<circle cx="83.0" cy="307.5" r="1.3" fill="#3ef21a"/>
<text x="92.3" y="310.1" font-size="7.4" font-weight="bold" text-anchor="start" fill="#000" stroke="#000" stroke-width="0.22" textLength="20" lengthAdjust="spacingAndGlyphs">RGS1</text>
<line x1="115.4" y1="307.5" x2="125.4" y2="307.5" stroke="#1640c4" stroke-width="1.3"/>
<circle cx="120.4" cy="307.5" r="1.3" fill="#1640c4"/>
<text x="128.8" y="310.1" font-size="7.4" font-weight="bold" text-anchor="start" fill="#000" stroke="#000" stroke-width="0.22" textLength="21.2" lengthAdjust="spacingAndGlyphs">RGS2</text>
<line x1="77" y1="316" x2="87" y2="316" stroke="#90e070" stroke-width="1.3"/>
<circle cx="82.0" cy="316" r="1.3" fill="#90e070"/>
<text x="89.6" y="318.6" font-size="7.4" font-weight="bold" text-anchor="start" fill="#000" stroke="#000" stroke-width="0.22" textLength="24.6" lengthAdjust="spacingAndGlyphs">RGS13</text>
<line x1="116.5" y1="316" x2="126.5" y2="316" stroke="#22129c" stroke-width="1.3"/>
<circle cx="121.5" cy="316" r="1.3" fill="#22129c"/>
<text x="130" y="318.6" font-size="7.4" font-weight="bold" text-anchor="start" fill="#000" stroke="#000" stroke-width="0.22" textLength="23.8" lengthAdjust="spacingAndGlyphs">RGS16</text>
<text x="193.4" y="303.6" font-size="10.6" font-weight="bold" text-anchor="start" fill="#000" stroke="#000" stroke-width="0.4">H</text>
<line x1="222.5" y1="310.15" x2="222.5" y2="404.0" stroke="#000" stroke-width="1.2"/>
<line x1="219.5" y1="403.5" x2="285.6" y2="403.5" stroke="#000" stroke-width="1.2"/>
<line x1="219.5" y1="403.5" x2="222.5" y2="403.5" stroke="#000" stroke-width="1.1"/>
<text x="216.9" y="406.2" font-size="7.7" font-weight="bold" text-anchor="end" fill="#000">0</text>
<line x1="219.5" y1="372.3833333333333" x2="222.5" y2="372.3833333333333" stroke="#000" stroke-width="1.1"/>
<text x="216.9" y="375.0833333333333" font-size="7.7" font-weight="bold" text-anchor="end" fill="#000">10</text>
<line x1="219.5" y1="341.26666666666665" x2="222.5" y2="341.26666666666665" stroke="#000" stroke-width="1.1"/>
<text x="216.9" y="343.96666666666664" font-size="7.7" font-weight="bold" text-anchor="end" fill="#000">20</text>
<line x1="219.5" y1="310.15" x2="222.5" y2="310.15" stroke="#000" stroke-width="1.1"/>
<text x="216.9" y="312.84999999999997" font-size="7.7" font-weight="bold" text-anchor="end" fill="#000">30</text>
<rect x="232.2" y="341.26666666666665" width="16.6" height="62.23333333333335" fill="#c60014" stroke="#000" stroke-width="1.1"/>
<line x1="240.5" y1="329.90908333333334" x2="240.5" y2="352.1575" stroke="#000" stroke-width="1.1"/>
<line x1="236.0" y1="329.90908333333334" x2="245.0" y2="329.90908333333334" stroke="#000" stroke-width="1.1"/>
<line x1="236.0" y1="352.1575" x2="245.0" y2="352.1575" stroke="#000" stroke-width="1.1"/>
<line x1="240.5" y1="403.5" x2="240.5" y2="406.5" stroke="#000" stroke-width="1.1"/>
<text x="242.5" y="413.0" font-size="7.2" font-weight="bold" text-anchor="end" stroke="#000" stroke-width="0.2" transform="rotate(-45 242.5 413.0)">sgCTRL</text>
<rect x="259.0" y="329.44233333333335" width="16.6" height="74.05766666666665" fill="#40f600" stroke="#000" stroke-width="1.1"/>
<line x1="267.3" y1="316.6845" x2="267.3" y2="340.64433333333335" stroke="#000" stroke-width="1.1"/>
<line x1="262.8" y1="316.6845" x2="271.8" y2="316.6845" stroke="#000" stroke-width="1.1"/>
<line x1="262.8" y1="340.64433333333335" x2="271.8" y2="340.64433333333335" stroke="#000" stroke-width="1.1"/>
<line x1="267.3" y1="403.5" x2="267.3" y2="406.5" stroke="#000" stroke-width="1.1"/>
<circle cx="265.50" cy="312.38" r="1.1" fill="#000"/>
<circle cx="269.10" cy="312.38" r="1.1" fill="#000"/>
<text x="269.3" y="413.0" font-size="7.2" font-weight="bold" text-anchor="end" stroke="#000" stroke-width="0.2" transform="rotate(-45 269.3 413.0)">sgRGS1</text>
<text transform="translate(203.4 356.6) rotate(-90) scale(0.7386 1)" x="0" y="0" font-size="8.3" font-weight="normal" text-anchor="middle" fill="#000" stroke="#000" stroke-width="0.28"><tspan dy="0.00">Chemotaxis (%)</tspan></text>
<line x1="326.0" y1="310.0" x2="326.0" y2="404.0" stroke="#000" stroke-width="1.2"/>
<line x1="323.0" y1="403.5" x2="388.4" y2="403.5" stroke="#000" stroke-width="1.2"/>
<line x1="323.0" y1="403.5" x2="326.0" y2="403.5" stroke="#000" stroke-width="1.1"/>
<text x="320.4" y="406.2" font-size="7.7" font-weight="bold" text-anchor="end" fill="#000">0</text>
<line x1="323.0" y1="372.3333333333333" x2="326.0" y2="372.3333333333333" stroke="#000" stroke-width="1.1"/>
<text x="320.4" y="375.0333333333333" font-size="7.7" font-weight="bold" text-anchor="end" fill="#000">5</text>
<line x1="323.0" y1="341.1666666666667" x2="326.0" y2="341.1666666666667" stroke="#000" stroke-width="1.1"/>
<text x="320.4" y="343.8666666666667" font-size="7.7" font-weight="bold" text-anchor="end" fill="#000">10</text>
<line x1="323.0" y1="310.0" x2="326.0" y2="310.0" stroke="#000" stroke-width="1.1"/>
<text x="320.4" y="312.7" font-size="7.7" font-weight="bold" text-anchor="end" fill="#000">15</text>
<rect x="335.3" y="326.83" width="16.6" height="76.67000000000002" fill="#ff780c" stroke="#000" stroke-width="1.1"/>
<line x1="343.6" y1="316.23333333333335" x2="343.6" y2="334.93333333333334" stroke="#000" stroke-width="1.1"/>
<line x1="339.1" y1="316.23333333333335" x2="348.1" y2="316.23333333333335" stroke="#000" stroke-width="1.1"/>
<line x1="339.1" y1="334.93333333333334" x2="348.1" y2="334.93333333333334" stroke="#000" stroke-width="1.1"/>
<line x1="343.6" y1="403.5" x2="343.6" y2="406.5" stroke="#000" stroke-width="1.1"/>
<text x="345.6" y="413.0" font-size="7.2" font-weight="bold" text-anchor="end" stroke="#000" stroke-width="0.2" transform="rotate(-45 345.6 413.0)">sgCTRL</text>
<rect x="362.5" y="328.07666666666665" width="16.6" height="75.42333333333335" fill="#a0dc70" stroke="#000" stroke-width="1.1"/>
<line x1="370.8" y1="314.9866666666667" x2="370.8" y2="339.92" stroke="#000" stroke-width="1.1"/>
<line x1="366.3" y1="314.9866666666667" x2="375.3" y2="314.9866666666667" stroke="#000" stroke-width="1.1"/>
<line x1="366.3" y1="339.92" x2="375.3" y2="339.92" stroke="#000" stroke-width="1.1"/>
<line x1="370.8" y1="403.5" x2="370.8" y2="406.5" stroke="#000" stroke-width="1.1"/>
<text x="372.8" y="413.0" font-size="7.2" font-weight="bold" text-anchor="end" stroke="#000" stroke-width="0.2" transform="rotate(-45 372.8 413.0)">sgRGS13</text>
<text transform="translate(307.5 356.45) rotate(-90) scale(0.7504 1)" x="0" y="0" font-size="8.3" font-weight="normal" text-anchor="middle" fill="#000" stroke="#000" stroke-width="0.28"><tspan dy="0.00">Chemotaxis (%)</tspan></text>
<line x1="429.5" y1="311.3" x2="429.5" y2="404.0" stroke="#000" stroke-width="1.2"/>
<line x1="426.5" y1="403.5" x2="491.7" y2="403.5" stroke="#000" stroke-width="1.2"/>
<line x1="426.5" y1="403.5" x2="429.5" y2="403.5" stroke="#000" stroke-width="1.1"/>
<text x="423.9" y="406.2" font-size="7.7" font-weight="bold" text-anchor="end" fill="#000">0</text>
<line x1="426.5" y1="380.45" x2="429.5" y2="380.45" stroke="#000" stroke-width="1.1"/>
<text x="423.9" y="383.15" font-size="7.7" font-weight="bold" text-anchor="end" fill="#000">10</text>
<line x1="426.5" y1="357.4" x2="429.5" y2="357.4" stroke="#000" stroke-width="1.1"/>
<text x="423.9" y="360.09999999999997" font-size="7.7" font-weight="bold" text-anchor="end" fill="#000">20</text>
<line x1="426.5" y1="334.35" x2="429.5" y2="334.35" stroke="#000" stroke-width="1.1"/>
<text x="423.9" y="337.05" font-size="7.7" font-weight="bold" text-anchor="end" fill="#000">30</text>
<line x1="426.5" y1="311.3" x2="429.5" y2="311.3" stroke="#000" stroke-width="1.1"/>
<text x="423.9" y="314.0" font-size="7.7" font-weight="bold" text-anchor="end" fill="#000">40</text>
<rect x="438.7" y="349.563" width="16.6" height="53.93700000000001" fill="#ff780c" stroke="#000" stroke-width="1.1"/>
<line x1="447" y1="341.265" x2="447" y2="356.7085" stroke="#000" stroke-width="1.1"/>
<line x1="442.5" y1="341.265" x2="451.5" y2="341.265" stroke="#000" stroke-width="1.1"/>
<line x1="442.5" y1="356.7085" x2="451.5" y2="356.7085" stroke="#000" stroke-width="1.1"/>
<line x1="447" y1="403.5" x2="447" y2="406.5" stroke="#000" stroke-width="1.1"/>
<text x="449" y="413.0" font-size="7.2" font-weight="bold" text-anchor="end" stroke="#000" stroke-width="0.2" transform="rotate(-45 449 413.0)">sgCTRL</text>
<rect x="465.5" y="338.2685" width="16.6" height="65.23149999999998" fill="#1c0a98" stroke="#000" stroke-width="1.1"/>
<line x1="473.8" y1="330.4315" x2="473.8" y2="344.2615" stroke="#000" stroke-width="1.1"/>
<line x1="469.3" y1="330.4315" x2="478.3" y2="330.4315" stroke="#000" stroke-width="1.1"/>
<line x1="469.3" y1="344.2615" x2="478.3" y2="344.2615" stroke="#000" stroke-width="1.1"/>
<line x1="473.8" y1="403.5" x2="473.8" y2="406.5" stroke="#000" stroke-width="1.1"/>
<circle cx="473.80" cy="326.13" r="1.1" fill="#000"/>
<text x="475.8" y="413.0" font-size="7.2" font-weight="bold" text-anchor="end" stroke="#000" stroke-width="0.2" transform="rotate(-45 475.8 413.0)">sgRGS16</text>
<text transform="translate(410.7 356.05) rotate(-90) scale(0.7504 1)" x="0" y="0" font-size="8.3" font-weight="normal" text-anchor="middle" fill="#000" stroke="#000" stroke-width="0.28"><tspan dy="0.00">Chemotaxis (%)</tspan></text>
<rect x="0" y="0" width="520" height="1.1" fill="#000"/>
<rect x="0" y="0" width="1.35" height="439" fill="#000"/>
<rect x="518.7" y="0" width="1.3" height="439" fill="#000"/>
<rect x="0" y="437.2" width="520" height="1.8" fill="#000"/>
</svg></body></html>
